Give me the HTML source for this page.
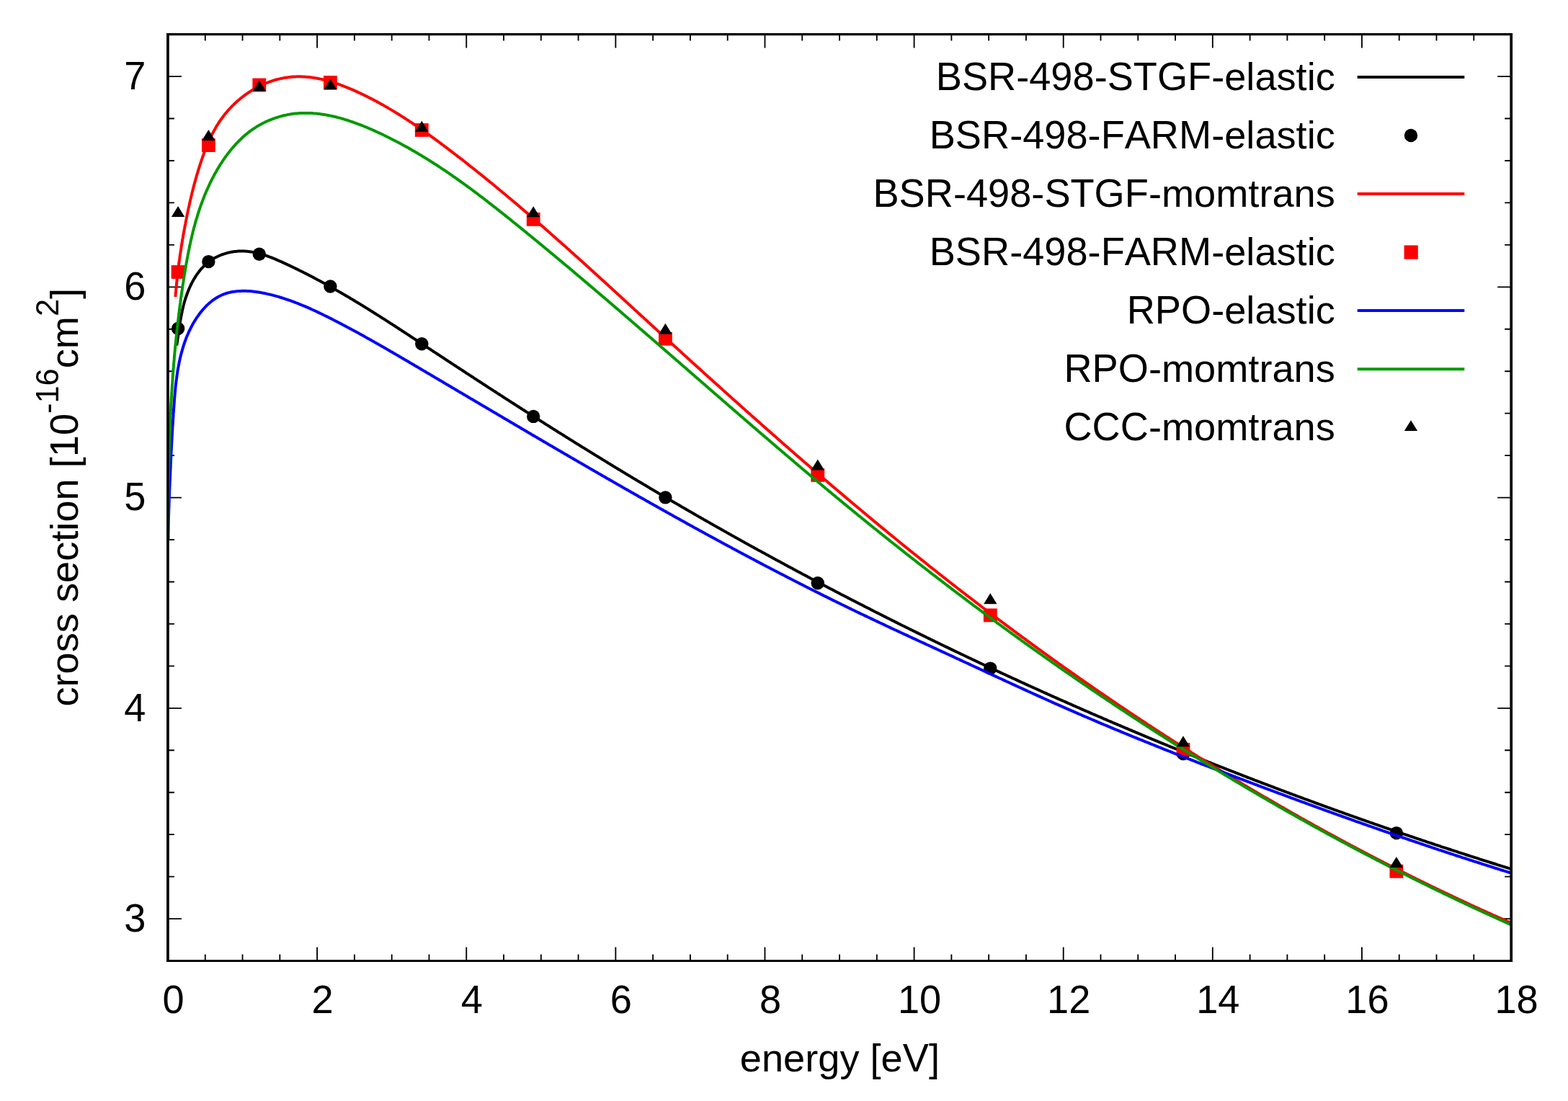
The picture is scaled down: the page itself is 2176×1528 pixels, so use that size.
<!DOCTYPE html><html><head><meta charset="utf-8"><title>cross section vs energy</title><style>html,body{margin:0;padding:0;background:#fff;overflow:hidden}svg{display:block}text{font-family:"Liberation Sans",Arial,Helvetica,sans-serif;fill:#000;font-kerning:none}</style></head><body>
<svg xmlns="http://www.w3.org/2000/svg" width="2176" height="1528" viewBox="0 0 2176 1528">
<rect width="2176" height="1528" fill="#fff"/>
<path d="M232.95 1275.05H251.95M2097.20 1275.05H2078.20M232.95 1216.60H241.95M2097.20 1216.60H2088.20M232.95 1158.15H241.95M2097.20 1158.15H2088.20M232.95 1099.70H241.95M2097.20 1099.70H2088.20M232.95 1041.25H241.95M2097.20 1041.25H2088.20M232.95 982.80H251.95M2097.20 982.80H2078.20M232.95 924.35H241.95M2097.20 924.35H2088.20M232.95 865.90H241.95M2097.20 865.90H2088.20M232.95 807.45H241.95M2097.20 807.45H2088.20M232.95 749.00H241.95M2097.20 749.00H2088.20M232.95 690.55H251.95M2097.20 690.55H2078.20M232.95 632.10H241.95M2097.20 632.10H2088.20M232.95 573.65H241.95M2097.20 573.65H2088.20M232.95 515.20H241.95M2097.20 515.20H2088.20M232.95 456.75H241.95M2097.20 456.75H2088.20M232.95 398.30H251.95M2097.20 398.30H2078.20M232.95 339.85H241.95M2097.20 339.85H2088.20M232.95 281.40H241.95M2097.20 281.40H2088.20M232.95 222.95H241.95M2097.20 222.95H2088.20M232.95 164.50H241.95M2097.20 164.50H2088.20M232.95 106.05H251.95M2097.20 106.05H2078.20M284.78 1333.50V1324.50M284.78 47.60V56.60M336.56 1333.50V1324.50M336.56 47.60V56.60M388.34 1333.50V1324.50M388.34 47.60V56.60M440.12 1333.50V1314.50M440.12 47.60V66.60M491.90 1333.50V1324.50M491.90 47.60V56.60M543.68 1333.50V1324.50M543.68 47.60V56.60M595.46 1333.50V1324.50M595.46 47.60V56.60M647.24 1333.50V1314.50M647.24 47.60V66.60M699.02 1333.50V1324.50M699.02 47.60V56.60M750.80 1333.50V1324.50M750.80 47.60V56.60M802.58 1333.50V1324.50M802.58 47.60V56.60M854.36 1333.50V1314.50M854.36 47.60V66.60M906.14 1333.50V1324.50M906.14 47.60V56.60M957.92 1333.50V1324.50M957.92 47.60V56.60M1009.70 1333.50V1324.50M1009.70 47.60V56.60M1061.48 1333.50V1314.50M1061.48 47.60V66.60M1113.26 1333.50V1324.50M1113.26 47.60V56.60M1165.04 1333.50V1324.50M1165.04 47.60V56.60M1216.82 1333.50V1324.50M1216.82 47.60V56.60M1268.60 1333.50V1314.50M1268.60 47.60V66.60M1320.38 1333.50V1324.50M1320.38 47.60V56.60M1372.16 1333.50V1324.50M1372.16 47.60V56.60M1423.94 1333.50V1324.50M1423.94 47.60V56.60M1475.72 1333.50V1314.50M1475.72 47.60V66.60M1527.50 1333.50V1324.50M1527.50 47.60V56.60M1579.28 1333.50V1324.50M1579.28 47.60V56.60M1631.06 1333.50V1324.50M1631.06 47.60V56.60M1682.84 1333.50V1314.50M1682.84 47.60V66.60M1734.62 1333.50V1324.50M1734.62 47.60V56.60M1786.40 1333.50V1324.50M1786.40 47.60V56.60M1838.18 1333.50V1324.50M1838.18 47.60V56.60M1889.96 1333.50V1314.50M1889.96 47.60V66.60M1941.74 1333.50V1324.50M1941.74 47.60V56.60M1993.52 1333.50V1324.50M1993.52 47.60V56.60M2045.30 1333.50V1324.50M2045.30 47.60V56.60" stroke="#000" stroke-width="1.85" fill="none"/>
<text y="1292.75"><tspan x="172.26" font-size="56.37" textLength="30.14" lengthAdjust="spacingAndGlyphs">3</tspan></text>
<text y="1000.50"><tspan x="172.26" font-size="56.37" textLength="30.14" lengthAdjust="spacingAndGlyphs">4</tspan></text>
<text y="708.25"><tspan x="172.26" font-size="56.37" textLength="30.14" lengthAdjust="spacingAndGlyphs">5</tspan></text>
<text y="416.00"><tspan x="172.26" font-size="56.37" textLength="30.14" lengthAdjust="spacingAndGlyphs">6</tspan></text>
<text y="123.75"><tspan x="172.26" font-size="56.37" textLength="30.14" lengthAdjust="spacingAndGlyphs">7</tspan></text>
<text y="1405.70"><tspan x="225.43" font-size="56.37" textLength="30.14" lengthAdjust="spacingAndGlyphs">0</tspan></text>
<text y="1405.70"><tspan x="432.55" font-size="56.37" textLength="30.14" lengthAdjust="spacingAndGlyphs">2</tspan></text>
<text y="1405.70"><tspan x="639.67" font-size="56.37" textLength="30.14" lengthAdjust="spacingAndGlyphs">4</tspan></text>
<text y="1405.70"><tspan x="846.79" font-size="56.37" textLength="30.14" lengthAdjust="spacingAndGlyphs">6</tspan></text>
<text y="1405.70"><tspan x="1053.91" font-size="56.37" textLength="30.14" lengthAdjust="spacingAndGlyphs">8</tspan></text>
<text y="1405.70"><tspan x="1245.96" font-size="56.37" textLength="60.28" lengthAdjust="spacingAndGlyphs">10</tspan></text>
<text y="1405.70"><tspan x="1453.08" font-size="56.37" textLength="60.28" lengthAdjust="spacingAndGlyphs">12</tspan></text>
<text y="1405.70"><tspan x="1660.20" font-size="56.37" textLength="60.28" lengthAdjust="spacingAndGlyphs">14</tspan></text>
<text y="1405.70"><tspan x="1867.32" font-size="56.37" textLength="60.28" lengthAdjust="spacingAndGlyphs">16</tspan></text>
<text y="1405.70"><tspan x="2074.44" font-size="56.37" textLength="60.28" lengthAdjust="spacingAndGlyphs">18</tspan></text>
<text y="1486.90"><tspan x="1026.83" font-size="54.20">energy [e</tspan><tspan x="1252.77" font-size="56.37" textLength="36.14" lengthAdjust="spacingAndGlyphs">V</tspan><tspan x="1288.91" font-size="54.20">]</tspan></text>
<g transform="translate(107.6 690.2) rotate(-90)"><text y="0.00"><tspan x="-290.34" font-size="54.20">cross section [</tspan><tspan x="55.98" font-size="56.37" textLength="60.27" lengthAdjust="spacingAndGlyphs">10</tspan></text><text y="-26.40"><tspan x="116.25" font-size="43.36">-</tspan><tspan x="130.70" font-size="45.09" textLength="48.22" lengthAdjust="spacingAndGlyphs">16</tspan></text><text y="0.00"><tspan x="178.92" font-size="54.20">cm</tspan></text><text y="-26.40"><tspan x="251.16" font-size="45.09" textLength="24.12" lengthAdjust="spacingAndGlyphs">2</tspan></text><text y="0.00"><tspan x="275.28" font-size="54.20">]</tspan></text></g>
<path d="M245.2 479.5 245.4 478.0 245.7 476.4 245.9 474.8 246.1 473.2 246.4 471.6 246.6 470.0 246.9 468.4 247.1 466.8 247.3 465.2 247.5 463.5 247.8 461.9 248.0 460.2 248.3 458.5 248.5 456.9 248.7 455.2 249.0 453.5 249.2 451.8 249.5 450.1 249.8 448.4 250.0 446.7 250.3 445.0 250.6 443.3 250.9 441.6 251.2 439.9 251.5 438.2 251.9 436.5 252.2 434.8 252.6 433.0 252.9 431.3 253.3 429.6 253.7 427.9 254.1 426.2 254.5 424.4 255.0 422.7 255.4 421.0 255.9 419.3 256.4 417.6 256.9 415.9 257.4 414.2 258.0 412.5 258.6 410.8 259.2 409.2 259.8 407.5 260.4 405.8 261.0 404.2 261.7 402.5 262.4 400.9 263.1 399.3 263.8 397.7 264.6 396.1 265.3 394.5 266.1 392.9 266.9 391.4 267.7 389.9 268.6 388.3 269.5 386.8 270.4 385.4 271.3 383.9 272.2 382.5 273.2 381.0 274.2 379.7 275.2 378.3 276.2 376.9 277.3 375.6 278.3 374.3 279.4 373.0 280.6 371.8 281.7 370.6 282.9 369.4 284.1 368.2 285.3 367.1 286.6 366.0 287.8 364.9 289.1 363.9 290.5 362.8 291.8 361.9 293.2 360.9 294.6 360.0 296.0 359.2 297.4 358.3 298.9 357.5 300.4 356.7 301.9 356.0 303.4 355.3 304.9 354.6 306.5 354.0 308.0 353.4 309.6 352.8 311.2 352.3 312.8 351.8 314.4 351.3 316.1 350.9 317.7 350.5 319.3 350.1 321.0 349.8 322.7 349.5 324.3 349.3 326.0 349.1 327.7 348.9 329.3 348.7 331.0 348.6 332.7 348.5 334.4 348.5 336.1 348.5 337.7 348.5 339.4 348.6 341.1 348.7 342.8 348.8 344.4 349.0 346.1 349.2 347.8 349.4 349.4 349.6 351.1 349.9 352.7 350.2 354.4 350.6 356.0 350.9 357.7 351.3 359.3 351.8 361.0 352.2 362.6 352.7 364.3 353.1 365.9 353.7 367.5 354.2 369.2 354.7 370.8 355.3 372.4 355.9 374.0 356.5 375.7 357.1 377.3 357.7 378.9 358.4 380.5 359.0 382.1 359.7 383.7 360.4 385.3 361.1 386.9 361.8 388.5 362.5 390.1 363.2 391.7 363.9 393.3 364.6 394.9 365.4 396.5 366.1 398.1 366.8 399.7 367.6 401.3 368.3 402.8 369.1 404.4 369.8 406.0 370.6 407.6 371.3 409.1 372.1 410.7 372.9 412.3 373.6 413.8 374.4 415.4 375.2 416.9 375.9 418.5 376.7 420.1 377.5 421.6 378.3 423.2 379.1 424.7 379.8 426.2 380.6 427.8 381.4 429.3 382.2 430.9 383.0 432.4 383.8 433.9 384.6 435.5 385.4 437.0 386.2 438.5 387.0 440.1 387.9 441.6 388.7 443.1 389.5 444.6 390.3 446.2 391.1 447.7 392.0 449.2 392.8 450.7 393.6 452.2 394.4 453.7 395.3 455.2 396.1 456.7 397.0 458.2 397.8 459.7 398.6 461.2 399.5 462.7 400.3 464.2 401.2 465.7 402.0 467.2 402.9 468.7 403.7 470.2 404.6 471.7 405.5 473.2 406.3 474.7 407.2 476.2 408.1 477.7 408.9 479.1 409.8 480.6 410.7 482.1 411.5 483.6 412.4 485.1 413.3 486.5 414.2 488.0 415.0 489.5 415.9 491.0 416.8 492.4 417.7 493.9 418.6 495.4 419.5 496.8 420.3 498.3 421.2 499.8 422.1 501.2 423.0 502.7 423.9 504.1 424.8 505.6 425.7 507.1 426.6 508.5 427.5 510.0 428.4 511.4 429.3 512.9 430.2 514.3 431.1 515.8 432.0 517.2 433.0 518.7 433.9 520.1 434.8 521.6 435.7 523.0 436.6 524.5 437.5 525.9 438.4 527.4 439.3 528.8 440.3 530.3 441.2 531.7 442.1 533.2 443.0 534.6 443.9 536.0 444.9 537.5 445.8 538.9 446.7 540.4 447.6 541.8 448.6 543.2 449.5 544.7 450.4 546.1 451.4 547.6 452.3 549.0 453.2 550.4 454.2 551.9 455.1 553.3 456.0 554.7 457.0 556.2 457.9 557.6 458.8 559.0 459.8 560.5 460.7 561.9 461.6 563.3 462.6 564.7 463.5 566.2 464.4 567.6 465.4 569.0 466.3 570.5 467.3 571.9 468.2 573.3 469.1 574.8 470.1 576.2 471.0 577.6 472.0 579.0 472.9 580.5 473.8 581.9 474.8 583.3 475.7 584.8 476.7 586.2 477.6 587.6 478.5 589.0 479.5 590.5 480.4 591.9 481.4 593.3 482.3 594.8 483.3 596.2 484.2 597.6 485.1 599.0 486.1 600.5 487.0 601.9 488.0 603.3 488.9 604.8 489.9 606.2 490.8 607.6 491.7 609.1 492.7 610.5 493.6 611.9 494.6 613.3 495.5 614.8 496.4 616.2 497.4 617.6 498.3 619.1 499.3 620.5 500.2 621.9 501.2 623.4 502.1 624.8 503.0 626.2 504.0 627.7 504.9 629.1 505.9 630.5 506.8 632.0 507.7 633.4 508.7 634.8 509.6 636.3 510.5 637.7 511.5 639.1 512.4 640.6 513.4 642.0 514.3 643.4 515.2 644.9 516.2 646.3 517.1 647.7 518.1 649.2 519.0 650.6 519.9 652.0 520.9 653.5 521.8 654.9 522.7 656.4 523.7 657.8 524.6 659.2 525.6 660.7 526.5 662.1 527.4 663.5 528.4 665.0 529.3 666.4 530.2 667.9 531.2 669.3 532.1 670.7 533.0 672.2 534.0 673.6 534.9 675.0 535.8 676.5 536.8 677.9 537.7 679.4 538.6 680.8 539.6 682.2 540.5 683.7 541.4 685.1 542.4 686.6 543.3 688.0 544.2 689.4 545.2 690.9 546.1 692.3 547.0 693.8 548.0 695.2 548.9 696.7 549.8 698.1 550.8 699.5 551.7 701.0 552.6 702.4 553.5 703.9 554.5 705.3 555.4 706.8 556.3 708.2 557.3 709.6 558.2 711.1 559.1 712.5 560.0 714.0 561.0 715.4 561.9 716.9 562.8 718.3 563.8 719.8 564.7 721.2 565.6 722.6 566.5 724.1 567.5 725.5 568.4 727.0 569.3 728.4 570.2 729.9 571.2 731.3 572.1 732.8 573.0 734.2 573.9 735.7 574.9 737.1 575.8 738.6 576.7 740.0 577.6 741.5 578.6 742.9 579.5 744.4 580.4 745.8 581.3 747.3 582.2 748.7 583.2 750.2 584.1 751.6 585.0 753.1 585.9 754.5 586.8 756.0 587.8 757.4 588.7 758.9 589.6 760.3 590.5 761.8 591.4 763.2 592.3 764.7 593.3 766.1 594.2 767.6 595.1 769.0 596.0 770.5 596.9 771.9 597.8 773.4 598.8 774.8 599.7 776.3 600.6 777.8 601.5 779.2 602.4 780.7 603.3 782.1 604.2 783.6 605.2 785.0 606.1 786.5 607.0 787.9 607.9 789.4 608.8 790.9 609.7 792.3 610.6 793.8 611.5 795.2 612.4 796.7 613.4 798.1 614.3 799.6 615.2 801.1 616.1 802.5 617.0 804.0 617.9 805.4 618.8 806.9 619.7 808.4 620.6 809.8 621.5 811.3 622.4 812.7 623.3 814.2 624.2 815.7 625.1 817.1 626.0 818.6 626.9 820.0 627.8 821.5 628.7 823.0 629.6 824.4 630.5 825.9 631.4 827.4 632.4 828.8 633.3 830.3 634.1 831.7 635.0 833.2 635.9 834.7 636.8 836.1 637.7 837.6 638.6 839.1 639.5 840.5 640.4 842.0 641.3 843.5 642.2 844.9 643.1 846.4 644.0 847.9 644.9 849.3 645.8 850.8 646.7 852.3 647.6 853.7 648.5 855.2 649.4 856.7 650.3 858.1 651.2 859.6 652.0 861.1 652.9 862.6 653.8 864.0 654.7 865.5 655.6 867.0 656.5 868.4 657.4 869.9 658.3 871.4 659.2 872.9 660.0 874.3 660.9 875.8 661.8 877.3 662.7 878.7 663.6 880.2 664.5 881.7 665.3 883.2 666.2 884.6 667.1 886.1 668.0 887.6 668.9 889.1 669.8 890.5 670.6 892.0 671.5 893.5 672.4 895.0 673.3 896.4 674.1 897.9 675.0 899.4 675.9 900.9 676.8 902.3 677.7 903.8 678.5 905.3 679.4 906.8 680.3 908.3 681.2 909.7 682.0 911.2 682.9 912.7 683.8 914.2 684.7 915.7 685.5 917.1 686.4 918.6 687.3 920.1 688.1 921.6 689.0 923.1 689.9 924.5 690.7 926.0 691.6 927.5 692.5 929.0 693.4 930.5 694.2 932.0 695.1 933.4 696.0 934.9 696.8 936.4 697.7 937.9 698.5 939.4 699.4 940.9 700.3 942.3 701.1 943.8 702.0 945.3 702.9 946.8 703.7 948.3 704.6 949.8 705.4 951.3 706.3 952.7 707.2 954.2 708.0 955.7 708.9 957.2 709.7 958.7 710.6 960.2 711.5 961.7 712.3 963.2 713.2 964.6 714.0 966.1 714.9 967.6 715.7 969.1 716.6 970.6 717.5 972.1 718.3 973.6 719.2 975.1 720.0 976.6 720.9 978.1 721.7 979.5 722.6 981.0 723.4 982.5 724.3 984.0 725.1 985.5 726.0 987.0 726.8 988.5 727.7 990.0 728.5 991.5 729.4 993.0 730.2 994.5 731.1 996.0 731.9 997.5 732.7 999.0 733.6 1000.5 734.4 1001.9 735.3 1003.4 736.1 1004.9 737.0 1006.4 737.8 1007.9 738.6 1009.4 739.5 1010.9 740.3 1012.4 741.2 1013.9 742.0 1015.4 742.9 1016.9 743.7 1018.4 744.5 1019.9 745.4 1021.4 746.2 1022.9 747.0 1024.4 747.9 1025.9 748.7 1027.4 749.6 1028.9 750.4 1030.4 751.2 1031.9 752.1 1033.4 752.9 1034.9 753.7 1036.4 754.6 1037.9 755.4 1039.4 756.2 1040.9 757.1 1042.4 757.9 1043.9 758.7 1045.4 759.5 1046.9 760.4 1048.4 761.2 1049.9 762.0 1051.4 762.9 1052.9 763.7 1054.5 764.5 1056.0 765.3 1057.5 766.2 1059.0 767.0 1060.5 767.8 1062.0 768.6 1063.5 769.5 1065.0 770.3 1066.5 771.1 1068.0 771.9 1069.5 772.8 1071.0 773.6 1072.5 774.4 1074.0 775.2 1075.5 776.0 1077.1 776.9 1078.6 777.7 1080.1 778.5 1081.6 779.3 1083.1 780.1 1084.6 781.0 1086.1 781.8 1087.6 782.6 1089.1 783.4 1090.6 784.2 1092.1 785.0 1093.7 785.9 1095.2 786.7 1096.7 787.5 1098.2 788.3 1099.7 789.1 1101.2 789.9 1102.7 790.7 1104.2 791.5 1105.8 792.4 1107.3 793.2 1108.8 794.0 1110.3 794.8 1111.8 795.6 1113.3 796.4 1114.8 797.2 1116.4 798.0 1117.9 798.8 1119.4 799.6 1120.9 800.4 1122.4 801.2 1123.9 802.0 1125.5 802.9 1127.0 803.7 1128.5 804.5 1130.0 805.3 1131.5 806.1 1133.0 806.9 1134.6 807.7 1136.1 808.5 1137.6 809.3 1139.1 810.1 1140.6 810.9 1142.2 811.7 1143.7 812.5 1145.2 813.3 1146.7 814.1 1148.2 814.9 1149.8 815.7 1151.3 816.5 1152.8 817.3 1154.3 818.0 1155.8 818.8 1157.4 819.6 1158.9 820.4 1160.4 821.2 1161.9 822.0 1163.4 822.8 1165.0 823.6 1166.5 824.4 1168.0 825.2 1169.5 826.0 1171.1 826.8 1172.6 827.6 1174.1 828.3 1175.6 829.1 1177.2 829.9 1178.7 830.7 1180.2 831.5 1181.7 832.3 1183.3 833.1 1184.8 833.9 1186.3 834.6 1187.8 835.4 1189.4 836.2 1190.9 837.0 1192.4 837.8 1194.0 838.6 1195.5 839.3 1197.0 840.1 1198.5 840.9 1200.1 841.7 1201.6 842.5 1203.1 843.2 1204.7 844.0 1206.2 844.8 1207.7 845.6 1209.2 846.4 1210.8 847.1 1212.3 847.9 1213.8 848.7 1215.4 849.5 1216.9 850.2 1218.4 851.0 1220.0 851.8 1221.5 852.6 1223.0 853.3 1224.6 854.1 1226.1 854.9 1227.6 855.7 1229.2 856.4 1230.7 857.2 1232.2 858.0 1233.8 858.7 1235.3 859.5 1236.8 860.3 1238.4 861.1 1239.9 861.8 1241.4 862.6 1243.0 863.4 1244.5 864.1 1246.0 864.9 1247.6 865.7 1249.1 866.4 1250.6 867.2 1252.2 868.0 1253.7 868.7 1255.3 869.5 1256.8 870.2 1258.3 871.0 1259.9 871.8 1261.4 872.5 1262.9 873.3 1264.5 874.1 1266.0 874.8 1267.6 875.6 1269.1 876.3 1270.6 877.1 1272.2 877.9 1273.7 878.6 1275.3 879.4 1276.8 880.1 1278.3 880.9 1279.9 881.6 1281.4 882.4 1283.0 883.1 1284.5 883.9 1286.1 884.7 1287.6 885.4 1289.1 886.2 1290.7 886.9 1292.2 887.7 1293.8 888.4 1295.3 889.2 1296.9 889.9 1298.4 890.7 1299.9 891.4 1301.5 892.2 1303.0 892.9 1304.6 893.7 1306.1 894.4 1307.7 895.2 1309.2 895.9 1310.8 896.7 1312.3 897.4 1313.8 898.1 1315.4 898.9 1316.9 899.6 1318.5 900.4 1320.0 901.1 1321.6 901.9 1323.1 902.6 1324.7 903.4 1326.2 904.1 1327.8 904.8 1329.3 905.6 1330.9 906.3 1332.4 907.1 1334.0 907.8 1335.5 908.5 1337.1 909.3 1338.6 910.0 1340.2 910.7 1341.7 911.5 1343.3 912.2 1344.8 913.0 1346.4 913.7 1347.9 914.4 1349.5 915.2 1351.0 915.9 1352.6 916.6 1354.1 917.4 1355.7 918.1 1357.2 918.8 1358.8 919.6 1360.3 920.3 1361.9 921.0 1363.4 921.7 1365.0 922.5 1366.6 923.2 1368.1 923.9 1369.7 924.7 1371.2 925.4 1372.8 926.1 1374.3 926.8 1375.9 927.6 1377.4 928.3 1379.0 929.0 1380.5 929.7 1382.1 930.5 1383.7 931.2 1385.2 931.9 1386.8 932.6 1388.3 933.4 1389.9 934.1 1391.4 934.8 1393.0 935.5 1394.6 936.2 1396.1 937.0 1397.7 937.7 1399.2 938.4 1400.8 939.1 1402.4 939.8 1403.9 940.6 1405.5 941.3 1407.0 942.0 1408.6 942.7 1410.2 943.4 1411.7 944.1 1413.3 944.9 1414.8 945.6 1416.4 946.3 1418.0 947.0 1419.5 947.7 1421.1 948.4 1422.6 949.1 1424.2 949.8 1425.8 950.6 1427.3 951.3 1428.9 952.0 1430.5 952.7 1432.0 953.4 1433.6 954.1 1435.1 954.8 1436.7 955.5 1438.3 956.2 1439.8 956.9 1441.4 957.6 1443.0 958.3 1444.5 959.0 1446.1 959.8 1447.7 960.5 1449.2 961.2 1450.8 961.9 1452.4 962.6 1453.9 963.3 1455.5 964.0 1457.1 964.7 1458.6 965.4 1460.2 966.1 1461.8 966.8 1463.3 967.5 1464.9 968.2 1466.5 968.9 1468.0 969.6 1469.6 970.3 1471.2 971.0 1472.7 971.7 1474.3 972.4 1475.9 973.0 1477.4 973.7 1479.0 974.4 1480.6 975.1 1482.2 975.8 1483.7 976.5 1485.3 977.2 1486.9 977.9 1488.4 978.6 1490.0 979.3 1491.6 980.0 1493.2 980.7 1494.7 981.4 1496.3 982.0 1497.9 982.7 1499.4 983.4 1501.0 984.1 1502.6 984.8 1504.2 985.5 1505.7 986.2 1507.3 986.9 1508.9 987.5 1510.5 988.2 1512.0 988.9 1513.6 989.6 1515.2 990.3 1516.8 991.0 1518.3 991.6 1519.9 992.3 1521.5 993.0 1523.1 993.7 1524.6 994.4 1526.2 995.0 1527.8 995.7 1529.4 996.4 1530.9 997.1 1532.5 997.8 1534.1 998.4 1535.7 999.1 1537.2 999.8 1538.8 1000.5 1540.4 1001.1 1542.0 1001.8 1543.6 1002.5 1545.1 1003.2 1546.7 1003.8 1548.3 1004.5 1549.9 1005.2 1551.5 1005.9 1553.0 1006.5 1554.6 1007.2 1556.2 1007.9 1557.8 1008.5 1559.4 1009.2 1560.9 1009.9 1562.5 1010.6 1564.1 1011.2 1565.7 1011.9 1567.3 1012.6 1568.8 1013.2 1570.4 1013.9 1572.0 1014.6 1573.6 1015.2 1575.2 1015.9 1576.8 1016.6 1578.3 1017.2 1579.9 1017.9 1581.5 1018.5 1583.1 1019.2 1584.7 1019.9 1586.3 1020.5 1587.8 1021.2 1589.4 1021.9 1591.0 1022.5 1592.6 1023.2 1594.2 1023.8 1595.8 1024.5 1597.3 1025.2 1598.9 1025.8 1600.5 1026.5 1602.1 1027.1 1603.7 1027.8 1605.3 1028.4 1606.9 1029.1 1608.4 1029.8 1610.0 1030.4 1611.6 1031.1 1613.2 1031.7 1614.8 1032.4 1616.4 1033.0 1618.0 1033.7 1619.6 1034.3 1621.1 1035.0 1622.7 1035.6 1624.3 1036.3 1625.9 1036.9 1627.5 1037.6 1629.1 1038.2 1630.7 1038.9 1632.3 1039.5 1633.9 1040.2 1635.5 1040.8 1637.0 1041.5 1638.6 1042.1 1640.2 1042.8 1641.8 1043.4 1643.4 1044.0 1645.0 1044.7 1646.6 1045.3 1648.2 1046.0 1649.8 1046.6 1651.4 1047.3 1653.0 1047.9 1654.5 1048.5 1656.1 1049.2 1657.7 1049.8 1659.3 1050.5 1660.9 1051.1 1662.5 1051.7 1664.1 1052.4 1665.7 1053.0 1667.3 1053.7 1668.9 1054.3 1670.5 1054.9 1672.1 1055.6 1673.7 1056.2 1675.3 1056.8 1676.9 1057.5 1678.5 1058.1 1680.1 1058.7 1681.6 1059.4 1683.2 1060.0 1684.8 1060.6 1686.4 1061.3 1688.0 1061.9 1689.6 1062.5 1691.2 1063.2 1692.8 1063.8 1694.4 1064.4 1696.0 1065.0 1697.6 1065.7 1699.2 1066.3 1700.8 1066.9 1702.4 1067.6 1704.0 1068.2 1705.6 1068.8 1707.2 1069.4 1708.8 1070.1 1710.4 1070.7 1712.0 1071.3 1713.6 1071.9 1715.2 1072.6 1716.8 1073.2 1718.4 1073.8 1720.0 1074.4 1721.6 1075.0 1723.2 1075.7 1724.8 1076.3 1726.4 1076.9 1728.0 1077.5 1729.6 1078.1 1731.2 1078.8 1732.8 1079.4 1734.4 1080.0 1736.0 1080.6 1737.6 1081.2 1739.2 1081.8 1740.8 1082.5 1742.4 1083.1 1744.0 1083.7 1745.6 1084.3 1747.2 1084.9 1748.8 1085.5 1750.4 1086.1 1752.1 1086.8 1753.7 1087.4 1755.3 1088.0 1756.9 1088.6 1758.5 1089.2 1760.1 1089.8 1761.7 1090.4 1763.3 1091.0 1764.9 1091.6 1766.5 1092.2 1768.1 1092.8 1769.7 1093.5 1771.3 1094.1 1772.9 1094.7 1774.5 1095.3 1776.1 1095.9 1777.7 1096.5 1779.3 1097.1 1781.0 1097.7 1782.6 1098.3 1784.2 1098.9 1785.8 1099.5 1787.4 1100.1 1789.0 1100.7 1790.6 1101.3 1792.2 1101.9 1793.8 1102.5 1795.4 1103.1 1797.0 1103.7 1798.7 1104.3 1800.3 1104.9 1801.9 1105.5 1803.5 1106.1 1805.1 1106.7 1806.7 1107.3 1808.3 1107.9 1809.9 1108.5 1811.5 1109.1 1813.1 1109.7 1814.8 1110.2 1816.4 1110.8 1818.0 1111.4 1819.6 1112.0 1821.2 1112.6 1822.8 1113.2 1824.4 1113.8 1826.0 1114.4 1827.7 1115.0 1829.3 1115.6 1830.9 1116.2 1832.5 1116.7 1834.1 1117.3 1835.7 1117.9 1837.3 1118.5 1838.9 1119.1 1840.6 1119.7 1842.2 1120.3 1843.8 1120.8 1845.4 1121.4 1847.0 1122.0 1848.6 1122.6 1850.2 1123.2 1851.9 1123.8 1853.5 1124.3 1855.1 1124.9 1856.7 1125.5 1858.3 1126.1 1859.9 1126.7 1861.6 1127.2 1863.2 1127.8 1864.8 1128.4 1866.4 1129.0 1868.0 1129.6 1869.6 1130.1 1871.3 1130.7 1872.9 1131.3 1874.5 1131.9 1876.1 1132.4 1877.7 1133.0 1879.3 1133.6 1881.0 1134.2 1882.6 1134.7 1884.2 1135.3 1885.8 1135.9 1887.4 1136.5 1889.1 1137.0 1890.7 1137.6 1892.3 1138.2 1893.9 1138.7 1895.5 1139.3 1897.2 1139.9 1898.8 1140.4 1900.4 1141.0 1902.0 1141.6 1903.6 1142.1 1905.3 1142.7 1906.9 1143.3 1908.5 1143.8 1910.1 1144.4 1911.7 1145.0 1913.4 1145.5 1915.0 1146.1 1916.6 1146.7 1918.2 1147.2 1919.9 1147.8 1921.5 1148.4 1923.1 1148.9 1924.7 1149.5 1926.4 1150.0 1928.0 1150.6 1929.6 1151.2 1931.2 1151.7 1932.8 1152.3 1934.5 1152.8 1936.1 1153.4 1937.7 1153.9 1939.3 1154.5 1941.0 1155.1 1942.6 1155.6 1944.2 1156.2 1945.8 1156.7 1947.5 1157.3 1949.1 1157.8 1950.7 1158.4 1952.3 1158.9 1954.0 1159.5 1955.6 1160.0 1957.2 1160.6 1958.9 1161.1 1960.5 1161.7 1962.1 1162.2 1963.7 1162.8 1965.4 1163.3 1967.0 1163.9 1968.6 1164.4 1970.2 1165.0 1971.9 1165.5 1973.5 1166.1 1975.1 1166.6 1976.8 1167.2 1978.4 1167.7 1980.0 1168.3 1981.6 1168.8 1983.3 1169.3 1984.9 1169.9 1986.5 1170.4 1988.2 1171.0 1989.8 1171.5 1991.4 1172.1 1993.0 1172.6 1994.7 1173.1 1996.3 1173.7 1997.9 1174.2 1999.6 1174.8 2001.2 1175.3 2002.8 1175.8 2004.5 1176.4 2006.1 1176.9 2007.7 1177.4 2009.4 1178.0 2011.0 1178.5 2012.6 1179.0 2014.3 1179.6 2015.9 1180.1 2017.5 1180.6 2019.1 1181.2 2020.8 1181.7 2022.4 1182.2 2024.0 1182.8 2025.7 1183.3 2027.3 1183.8 2028.9 1184.4 2030.6 1184.9 2032.2 1185.4 2033.8 1186.0 2035.5 1186.5 2037.1 1187.0 2038.8 1187.5 2040.4 1188.1 2042.0 1188.6 2043.7 1189.1 2045.3 1189.6 2046.9 1190.2 2048.6 1190.7 2050.2 1191.2 2051.8 1191.7 2053.5 1192.3 2055.1 1192.8 2056.7 1193.3 2058.4 1193.8 2060.0 1194.4 2061.7 1194.9 2063.3 1195.4 2064.9 1195.9 2066.6 1196.4 2068.2 1197.0 2069.8 1197.5 2071.5 1198.0 2073.1 1198.5 2074.7 1199.0 2076.4 1199.5 2078.0 1200.1 2079.7 1200.6 2081.3 1201.1 2082.9 1201.6 2084.6 1202.1 2086.2 1202.6 2087.9 1203.1 2089.5 1203.7 2091.1 1204.2 2092.8 1204.7 2094.4 1205.2 2096.1 1205.7 2096.9 1206.0" stroke="#000" stroke-width="4" fill="none" stroke-linejoin="round"/>
<g fill="#000"><circle cx="247.1" cy="455.9" r="9.2"/><circle cx="289.4" cy="363.1" r="9.2"/><circle cx="359.8" cy="352.7" r="9.2"/><circle cx="458.4" cy="397.5" r="9.2"/><circle cx="585.3" cy="477.2" r="9.2"/><circle cx="740.2" cy="577.9" r="9.2"/><circle cx="923.4" cy="690.4" r="9.2"/><circle cx="1134.8" cy="809.2" r="9.2"/><circle cx="1374.3" cy="927.6" r="9.2"/><circle cx="1642.0" cy="1046.0" r="9.2"/><circle cx="1937.9" cy="1156.1" r="9.2"/></g>
<path d="M243.4 412.1 243.6 410.1 243.7 408.1 243.9 406.1 244.1 404.2 244.2 402.2 244.4 400.2 244.6 398.3 244.8 396.3 245.0 394.3 245.2 392.4 245.4 390.4 245.6 388.4 245.8 386.5 246.0 384.5 246.2 382.6 246.4 380.6 246.7 378.7 246.9 376.7 247.1 374.8 247.4 372.8 247.6 370.9 247.9 368.9 248.1 367.0 248.4 365.1 248.6 363.1 248.9 361.2 249.2 359.2 249.4 357.3 249.7 355.4 250.0 353.4 250.3 351.5 250.6 349.6 250.9 347.6 251.2 345.7 251.5 343.8 251.8 341.8 252.1 339.9 252.4 338.0 252.7 336.1 253.0 334.1 253.3 332.2 253.7 330.3 254.0 328.4 254.3 326.4 254.7 324.5 255.0 322.6 255.4 320.7 255.7 318.8 256.1 316.8 256.4 314.9 256.8 313.0 257.2 311.1 257.5 309.2 257.9 307.2 258.3 305.3 258.7 303.4 259.0 301.5 259.4 299.6 259.8 297.7 260.2 295.8 260.6 293.8 261.0 291.9 261.4 290.0 261.8 288.1 262.3 286.2 262.7 284.3 263.1 282.4 263.5 280.5 264.0 278.6 264.4 276.6 264.9 274.7 265.3 272.8 265.8 270.9 266.2 269.0 266.7 267.1 267.2 265.2 267.7 263.3 268.1 261.4 268.6 259.5 269.1 257.6 269.6 255.7 270.1 253.8 270.7 251.9 271.2 250.0 271.7 248.1 272.3 246.2 272.8 244.3 273.3 242.4 273.9 240.5 274.5 238.6 275.0 236.7 275.6 234.8 276.2 232.9 276.8 231.0 277.4 229.1 278.0 227.3 278.7 225.4 279.3 223.5 279.9 221.6 280.6 219.7 281.2 217.8 281.9 216.0 282.6 214.1 283.2 212.2 283.9 210.3 284.7 208.5 285.4 206.6 286.1 204.8 286.9 202.9 287.6 201.1 288.4 199.2 289.2 197.4 290.0 195.6 290.8 193.8 291.6 192.0 292.5 190.2 293.4 188.4 294.2 186.6 295.1 184.9 296.1 183.1 297.0 181.4 298.0 179.7 298.9 177.9 299.9 176.2 300.9 174.5 302.0 172.9 303.0 171.2 304.1 169.5 305.2 167.9 306.3 166.3 307.5 164.7 308.6 163.1 309.8 161.5 311.0 160.0 312.2 158.4 313.5 156.9 314.7 155.4 316.0 153.9 317.3 152.4 318.6 151.0 320.0 149.5 321.3 148.1 322.7 146.7 324.1 145.4 325.5 144.0 326.9 142.7 328.4 141.3 329.8 140.0 331.3 138.7 332.8 137.5 334.3 136.2 335.8 135.0 337.4 133.8 338.9 132.7 340.5 131.5 342.1 130.4 343.7 129.3 345.3 128.2 346.9 127.1 348.5 126.1 350.2 125.0 351.8 124.1 353.5 123.1 355.2 122.1 356.9 121.2 358.6 120.3 360.3 119.5 362.0 118.6 363.8 117.8 365.5 117.0 367.3 116.2 369.1 115.5 370.8 114.8 372.6 114.1 374.4 113.4 376.2 112.8 378.0 112.2 379.9 111.6 381.7 111.0 383.5 110.5 385.4 110.0 387.2 109.6 389.1 109.1 390.9 108.7 392.8 108.4 394.7 108.0 396.5 107.7 398.4 107.4 400.3 107.2 402.2 106.9 404.1 106.7 406.0 106.6 407.9 106.5 409.8 106.4 411.7 106.3 413.6 106.3 415.5 106.3 417.4 106.3 419.3 106.4 421.3 106.4 423.2 106.6 425.1 106.7 427.0 106.9 429.0 107.1 430.9 107.3 432.8 107.6 434.7 107.8 436.7 108.2 438.6 108.5 440.5 108.8 442.4 109.2 444.4 109.6 446.3 110.0 448.2 110.5 450.1 111.0 452.1 111.5 454.0 112.0 455.9 112.5 457.8 113.0 459.7 113.6 461.7 114.2 463.6 114.8 465.5 115.4 467.4 116.1 469.3 116.7 471.2 117.4 473.1 118.1 475.0 118.8 476.9 119.5 478.8 120.3 480.7 121.0 482.5 121.8 484.4 122.5 486.3 123.3 488.2 124.1 490.0 124.9 491.9 125.7 493.7 126.6 495.6 127.4 497.4 128.3 499.3 129.1 501.1 130.0 502.9 130.8 504.7 131.7 506.5 132.6 508.3 133.5 510.1 134.4 511.9 135.3 513.7 136.2 515.5 137.1 517.3 138.0 519.1 139.0 520.8 139.9 522.6 140.8 524.3 141.8 526.1 142.7 527.8 143.7 529.6 144.7 531.3 145.6 533.0 146.6 534.7 147.6 536.4 148.6 538.2 149.6 539.9 150.6 541.6 151.6 543.3 152.6 545.0 153.6 546.6 154.6 548.3 155.6 550.0 156.7 551.7 157.7 553.3 158.7 555.0 159.8 556.7 160.8 558.3 161.9 560.0 162.9 561.6 164.0 563.3 165.1 564.9 166.1 566.6 167.2 568.2 168.3 569.8 169.4 571.4 170.4 573.1 171.5 574.7 172.6 576.3 173.7 577.9 174.8 579.5 175.9 581.1 177.0 582.7 178.2 584.3 179.3 585.9 180.4 587.5 181.5 589.1 182.6 590.7 183.8 592.3 184.9 593.9 186.0 595.5 187.2 597.1 188.3 598.6 189.5 600.2 190.6 601.8 191.7 603.4 192.9 604.9 194.1 606.5 195.2 608.1 196.4 609.6 197.5 611.2 198.7 612.8 199.9 614.3 201.0 615.9 202.2 617.4 203.4 619.0 204.5 620.5 205.7 622.1 206.9 623.6 208.1 625.2 209.2 626.7 210.4 628.3 211.6 629.8 212.8 631.4 214.0 632.9 215.2 634.5 216.4 636.0 217.6 637.6 218.7 639.1 219.9 640.7 221.1 642.2 222.3 643.7 223.5 645.3 224.7 646.8 225.9 648.3 227.1 649.9 228.4 651.4 229.6 652.9 230.8 654.5 232.0 656.0 233.2 657.5 234.4 659.1 235.6 660.6 236.8 662.1 238.1 663.6 239.3 665.2 240.5 666.7 241.7 668.2 242.9 669.7 244.2 671.2 245.4 672.8 246.6 674.3 247.9 675.8 249.1 677.3 250.3 678.8 251.6 680.3 252.8 681.8 254.0 683.4 255.3 684.9 256.5 686.4 257.7 687.9 259.0 689.4 260.2 690.9 261.5 692.4 262.7 693.9 264.0 695.4 265.2 696.9 266.5 698.4 267.7 699.9 269.0 701.4 270.2 702.9 271.5 704.4 272.7 705.9 274.0 707.4 275.3 708.9 276.5 710.4 277.8 711.9 279.0 713.4 280.3 714.9 281.6 716.4 282.8 717.9 284.1 719.4 285.4 720.9 286.6 722.4 287.9 723.9 289.2 725.4 290.4 726.9 291.7 728.3 293.0 729.8 294.3 731.3 295.5 732.8 296.8 734.3 298.1 735.8 299.4 737.3 300.7 738.7 301.9 740.2 303.2 741.7 304.5 743.2 305.8 744.7 307.1 746.1 308.4 747.6 309.6 749.1 310.9 750.6 312.2 752.1 313.5 753.5 314.8 755.0 316.1 756.5 317.4 758.0 318.7 759.4 320.0 760.9 321.3 762.4 322.6 763.9 323.9 765.3 325.2 766.8 326.5 768.3 327.8 769.7 329.1 771.2 330.4 772.7 331.7 774.1 333.0 775.6 334.3 777.1 335.6 778.6 336.9 780.0 338.2 781.5 339.5 783.0 340.8 784.4 342.1 785.9 343.4 787.3 344.7 788.8 346.0 790.3 347.3 791.7 348.6 793.2 350.0 794.7 351.3 796.1 352.6 797.6 353.9 799.0 355.2 800.5 356.5 802.0 357.8 803.4 359.1 804.9 360.5 806.4 361.8 807.8 363.1 809.3 364.4 810.7 365.7 812.2 367.0 813.6 368.4 815.1 369.7 816.6 371.0 818.0 372.3 819.5 373.6 820.9 375.0 822.4 376.3 823.8 377.6 825.3 378.9 826.7 380.3 828.2 381.6 829.7 382.9 831.1 384.2 832.6 385.5 834.0 386.9 835.5 388.2 836.9 389.5 838.4 390.8 839.8 392.2 841.3 393.5 842.7 394.8 844.2 396.2 845.6 397.5 847.1 398.8 848.5 400.1 850.0 401.5 851.4 402.8 852.9 404.1 854.3 405.4 855.8 406.8 857.2 408.1 858.7 409.4 860.1 410.8 861.6 412.1 863.0 413.4 864.5 414.7 865.9 416.1 867.4 417.4 868.8 418.7 870.3 420.1 871.7 421.4 873.2 422.7 874.6 424.1 876.1 425.4 877.5 426.7 879.0 428.0 880.4 429.4 881.9 430.7 883.3 432.0 884.8 433.4 886.2 434.7 887.7 436.0 889.1 437.4 890.6 438.7 892.0 440.0 893.5 441.4 894.9 442.7 896.4 444.0 897.8 445.3 899.3 446.7 900.7 448.0 902.2 449.3 903.6 450.7 905.1 452.0 906.5 453.3 908.0 454.7 909.4 456.0 910.9 457.3 912.3 458.6 913.8 460.0 915.2 461.3 916.7 462.6 918.1 464.0 919.6 465.3 921.0 466.6 922.5 467.9 923.9 469.3 925.4 470.6 926.8 471.9 928.3 473.2 929.7 474.6 931.2 475.9 932.6 477.2 934.1 478.5 935.5 479.9 937.0 481.2 938.4 482.5 939.9 483.8 941.3 485.2 942.8 486.5 944.2 487.8 945.7 489.1 947.1 490.5 948.6 491.8 950.0 493.1 951.5 494.4 953.0 495.8 954.4 497.1 955.9 498.4 957.3 499.7 958.8 501.0 960.2 502.4 961.7 503.7 963.1 505.0 964.6 506.3 966.0 507.7 967.5 509.0 968.9 510.3 970.4 511.6 971.9 512.9 973.3 514.3 974.8 515.6 976.2 516.9 977.7 518.2 979.1 519.5 980.6 520.8 982.1 522.2 983.5 523.5 985.0 524.8 986.4 526.1 987.9 527.4 989.3 528.7 990.8 530.1 992.3 531.4 993.7 532.7 995.2 534.0 996.6 535.3 998.1 536.6 999.5 537.9 1001.0 539.3 1002.5 540.6 1003.9 541.9 1005.4 543.2 1006.8 544.5 1008.3 545.8 1009.8 547.1 1011.2 548.5 1012.7 549.8 1014.2 551.1 1015.6 552.4 1017.1 553.7 1018.5 555.0 1020.0 556.3 1021.5 557.6 1022.9 558.9 1024.4 560.2 1025.9 561.5 1027.3 562.9 1028.8 564.2 1030.2 565.5 1031.7 566.8 1033.2 568.1 1034.6 569.4 1036.1 570.7 1037.6 572.0 1039.0 573.3 1040.5 574.6 1042.0 575.9 1043.4 577.2 1044.9 578.5 1046.4 579.8 1047.8 581.1 1049.3 582.4 1050.8 583.7 1052.2 585.0 1053.7 586.3 1055.2 587.6 1056.6 588.9 1058.1 590.2 1059.6 591.5 1061.1 592.8 1062.5 594.1 1064.0 595.4 1065.5 596.7 1066.9 598.0 1068.4 599.3 1069.9 600.6 1071.4 601.9 1072.8 603.2 1074.3 604.5 1075.8 605.8 1077.2 607.1 1078.7 608.4 1080.2 609.7 1081.7 611.0 1083.1 612.3 1084.6 613.6 1086.1 614.9 1087.6 616.2 1089.0 617.5 1090.5 618.8 1092.0 620.1 1093.5 621.3 1094.9 622.6 1096.4 623.9 1097.9 625.2 1099.4 626.5 1100.9 627.8 1102.3 629.1 1103.8 630.4 1105.3 631.7 1106.8 632.9 1108.3 634.2 1109.7 635.5 1111.2 636.8 1112.7 638.1 1114.2 639.4 1115.7 640.7 1117.1 641.9 1118.6 643.2 1120.1 644.5 1121.6 645.8 1123.1 647.1 1124.6 648.4 1126.0 649.6 1127.5 650.9 1129.0 652.2 1130.5 653.5 1132.0 654.8 1133.5 656.0 1135.0 657.3 1136.4 658.6 1137.9 659.9 1139.4 661.1 1140.9 662.4 1142.4 663.7 1143.9 665.0 1145.4 666.3 1146.9 667.5 1148.4 668.8 1149.8 670.1 1151.3 671.3 1152.8 672.6 1154.3 673.9 1155.8 675.2 1157.3 676.4 1158.8 677.7 1160.3 679.0 1161.8 680.2 1163.3 681.5 1164.8 682.8 1166.3 684.1 1167.8 685.3 1169.3 686.6 1170.8 687.9 1172.3 689.1 1173.8 690.4 1175.3 691.7 1176.8 692.9 1178.3 694.2 1179.8 695.4 1181.3 696.7 1182.8 698.0 1184.3 699.2 1185.8 700.5 1187.3 701.8 1188.8 703.0 1190.3 704.3 1191.8 705.5 1193.3 706.8 1194.8 708.1 1196.3 709.3 1197.8 710.6 1199.3 711.8 1200.8 713.1 1202.3 714.3 1203.8 715.6 1205.3 716.8 1206.8 718.1 1208.3 719.4 1209.8 720.6 1211.3 721.9 1212.8 723.1 1214.4 724.4 1215.9 725.6 1217.4 726.9 1218.9 728.1 1220.4 729.4 1221.9 730.6 1223.4 731.9 1224.9 733.1 1226.5 734.4 1228.0 735.6 1229.5 736.8 1231.0 738.1 1232.5 739.3 1234.0 740.6 1235.5 741.8 1237.1 743.1 1238.6 744.3 1240.1 745.5 1241.6 746.8 1243.1 748.0 1244.7 749.3 1246.2 750.5 1247.7 751.7 1249.2 753.0 1250.7 754.2 1252.3 755.5 1253.8 756.7 1255.3 757.9 1256.8 759.2 1258.4 760.4 1259.9 761.6 1261.4 762.9 1262.9 764.1 1264.5 765.3 1266.0 766.5 1267.5 767.8 1269.0 769.0 1270.6 770.2 1272.1 771.5 1273.6 772.7 1275.2 773.9 1276.7 775.1 1278.2 776.4 1279.8 777.6 1281.3 778.8 1282.8 780.0 1284.4 781.3 1285.9 782.5 1287.4 783.7 1289.0 784.9 1290.5 786.2 1292.0 787.4 1293.6 788.6 1295.1 789.8 1296.7 791.0 1298.2 792.2 1299.7 793.5 1301.3 794.7 1302.8 795.9 1304.4 797.1 1305.9 798.3 1307.4 799.5 1309.0 800.7 1310.5 802.0 1312.1 803.2 1313.6 804.4 1315.2 805.6 1316.7 806.8 1318.2 808.0 1319.8 809.2 1321.3 810.4 1322.9 811.6 1324.4 812.8 1326.0 814.0 1327.5 815.2 1329.1 816.5 1330.6 817.7 1332.2 818.9 1333.7 820.1 1335.3 821.3 1336.8 822.5 1338.4 823.7 1340.0 824.9 1341.5 826.1 1343.1 827.3 1344.6 828.5 1346.2 829.6 1347.7 830.8 1349.3 832.0 1350.8 833.2 1352.4 834.4 1354.0 835.6 1355.5 836.8 1357.1 838.0 1358.6 839.2 1360.2 840.4 1361.8 841.6 1363.3 842.8 1364.9 844.0 1366.4 845.1 1368.0 846.3 1369.6 847.5 1371.1 848.7 1372.7 849.9 1374.3 851.1 1375.8 852.2 1377.4 853.4 1379.0 854.6 1380.5 855.8 1382.1 857.0 1383.7 858.2 1385.2 859.3 1386.8 860.5 1388.4 861.7 1390.0 862.9 1391.5 864.0 1393.1 865.2 1394.7 866.4 1396.3 867.6 1397.8 868.7 1399.4 869.9 1401.0 871.1 1402.6 872.3 1404.1 873.4 1405.7 874.6 1407.3 875.8 1408.9 876.9 1410.4 878.1 1412.0 879.3 1413.6 880.4 1415.2 881.6 1416.8 882.8 1418.3 883.9 1419.9 885.1 1421.5 886.2 1423.1 887.4 1424.7 888.6 1426.3 889.7 1427.8 890.9 1429.4 892.0 1431.0 893.2 1432.6 894.4 1434.2 895.5 1435.8 896.7 1437.4 897.8 1438.9 899.0 1440.5 900.1 1442.1 901.3 1443.7 902.4 1445.3 903.6 1446.9 904.7 1448.5 905.9 1450.1 907.0 1451.7 908.2 1453.3 909.3 1454.9 910.5 1456.5 911.6 1458.0 912.8 1459.6 913.9 1461.2 915.1 1462.8 916.2 1464.4 917.3 1466.0 918.5 1467.6 919.6 1469.2 920.8 1470.8 921.9 1472.4 923.0 1474.0 924.2 1475.6 925.3 1477.2 926.5 1478.8 927.6 1480.4 928.7 1482.0 929.9 1483.6 931.0 1485.2 932.1 1486.8 933.3 1488.5 934.4 1490.1 935.5 1491.7 936.6 1493.3 937.8 1494.9 938.9 1496.5 940.0 1498.1 941.2 1499.7 942.3 1501.3 943.4 1502.9 944.5 1504.5 945.6 1506.1 946.8 1507.8 947.9 1509.4 949.0 1511.0 950.1 1512.6 951.2 1514.2 952.4 1515.8 953.5 1517.4 954.6 1519.1 955.7 1520.7 956.8 1522.3 957.9 1523.9 959.1 1525.5 960.2 1527.1 961.3 1528.8 962.4 1530.4 963.5 1532.0 964.6 1533.6 965.7 1535.2 966.8 1536.9 967.9 1538.5 969.0 1540.1 970.1 1541.7 971.2 1543.4 972.4 1545.0 973.5 1546.6 974.6 1548.2 975.7 1549.9 976.8 1551.5 977.9 1553.1 979.0 1554.7 980.1 1556.4 981.2 1558.0 982.2 1559.6 983.3 1561.3 984.4 1562.9 985.5 1564.5 986.6 1566.2 987.7 1567.8 988.8 1569.4 989.9 1571.0 991.0 1572.7 992.1 1574.3 993.2 1576.0 994.3 1577.6 995.3 1579.2 996.4 1580.9 997.5 1582.5 998.6 1584.1 999.7 1585.8 1000.8 1587.4 1001.8 1589.1 1002.9 1590.7 1004.0 1592.3 1005.1 1594.0 1006.2 1595.6 1007.2 1597.3 1008.3 1598.9 1009.4 1600.5 1010.5 1602.2 1011.5 1603.8 1012.6 1605.5 1013.7 1607.1 1014.7 1608.8 1015.8 1610.4 1016.9 1612.1 1018.0 1613.7 1019.0 1615.4 1020.1 1617.0 1021.2 1618.6 1022.2 1620.3 1023.3 1621.9 1024.3 1623.6 1025.4 1625.2 1026.5 1626.9 1027.5 1628.6 1028.6 1630.2 1029.7 1631.9 1030.7 1633.5 1031.8 1635.2 1032.8 1636.8 1033.9 1638.5 1034.9 1640.1 1036.0 1641.8 1037.0 1643.4 1038.1 1645.1 1039.1 1646.8 1040.2 1648.4 1041.2 1650.1 1042.3 1651.7 1043.3 1653.4 1044.4 1655.1 1045.4 1656.7 1046.5 1658.4 1047.5 1660.0 1048.6 1661.7 1049.6 1663.4 1050.7 1665.0 1051.7 1666.7 1052.7 1668.4 1053.8 1670.0 1054.8 1671.7 1055.8 1673.4 1056.9 1675.0 1057.9 1676.7 1059.0 1678.4 1060.0 1680.0 1061.0 1681.7 1062.1 1683.4 1063.1 1685.1 1064.1 1686.7 1065.1 1688.4 1066.2 1690.1 1067.2 1691.7 1068.2 1693.4 1069.3 1695.1 1070.3 1696.8 1071.3 1698.4 1072.3 1700.1 1073.3 1701.8 1074.4 1703.5 1075.4 1705.1 1076.4 1706.8 1077.4 1708.5 1078.4 1710.2 1079.5 1711.9 1080.5 1713.5 1081.5 1715.2 1082.5 1716.9 1083.5 1718.6 1084.5 1720.3 1085.5 1721.9 1086.5 1723.6 1087.6 1725.3 1088.6 1727.0 1089.6 1728.7 1090.6 1730.4 1091.6 1732.1 1092.6 1733.7 1093.6 1735.4 1094.6 1737.1 1095.6 1738.8 1096.6 1740.5 1097.6 1742.2 1098.6 1743.9 1099.6 1745.6 1100.6 1747.3 1101.6 1748.9 1102.6 1750.6 1103.6 1752.3 1104.6 1754.0 1105.6 1755.7 1106.6 1757.4 1107.5 1759.1 1108.5 1760.8 1109.5 1762.5 1110.5 1764.2 1111.5 1765.9 1112.5 1767.6 1113.5 1769.3 1114.5 1771.0 1115.4 1772.7 1116.4 1774.4 1117.4 1776.1 1118.4 1777.8 1119.4 1779.5 1120.3 1781.2 1121.3 1782.9 1122.3 1784.6 1123.3 1786.3 1124.2 1788.0 1125.2 1789.7 1126.2 1791.4 1127.2 1793.1 1128.1 1794.8 1129.1 1796.5 1130.1 1798.2 1131.0 1799.9 1132.0 1801.6 1133.0 1803.3 1133.9 1805.1 1134.9 1806.8 1135.9 1808.5 1136.8 1810.2 1137.8 1811.9 1138.7 1813.6 1139.7 1815.3 1140.7 1817.0 1141.6 1818.8 1142.6 1820.5 1143.5 1822.2 1144.5 1823.9 1145.4 1825.6 1146.4 1827.3 1147.3 1829.0 1148.3 1830.8 1149.2 1832.5 1150.2 1834.2 1151.1 1835.9 1152.1 1837.6 1153.0 1839.4 1154.0 1841.1 1154.9 1842.8 1155.9 1844.5 1156.8 1846.2 1157.7 1848.0 1158.7 1849.7 1159.6 1851.4 1160.5 1853.1 1161.5 1854.9 1162.4 1856.6 1163.4 1858.3 1164.3 1860.0 1165.2 1861.8 1166.1 1863.5 1167.1 1865.2 1168.0 1866.9 1168.9 1868.7 1169.9 1870.4 1170.8 1872.1 1171.7 1873.9 1172.6 1875.6 1173.6 1877.3 1174.5 1879.1 1175.4 1880.8 1176.3 1882.5 1177.2 1884.3 1178.2 1886.0 1179.1 1887.7 1180.0 1889.5 1180.9 1891.2 1181.8 1892.9 1182.7 1894.7 1183.7 1896.4 1184.6 1898.2 1185.5 1899.9 1186.4 1901.6 1187.3 1903.4 1188.2 1905.1 1189.1 1906.9 1190.0 1908.6 1190.9 1910.3 1191.8 1912.1 1192.7 1913.8 1193.6 1915.6 1194.5 1917.3 1195.4 1919.1 1196.3 1920.8 1197.2 1922.5 1198.1 1924.3 1199.0 1926.0 1199.9 1927.8 1200.8 1929.5 1201.7 1931.3 1202.6 1933.0 1203.5 1934.8 1204.3 1936.5 1205.2 1938.3 1206.1 1940.0 1207.0 1941.8 1207.9 1943.5 1208.8 1945.3 1209.7 1947.0 1210.5 1948.8 1211.4 1950.6 1212.3 1952.3 1213.2 1954.1 1214.0 1955.8 1214.9 1957.6 1215.8 1959.3 1216.7 1961.1 1217.5 1962.9 1218.4 1964.6 1219.3 1966.4 1220.2 1968.1 1221.0 1969.9 1221.9 1971.7 1222.8 1973.4 1223.6 1975.2 1224.5 1976.9 1225.4 1978.7 1226.2 1980.5 1227.1 1982.2 1227.9 1984.0 1228.8 1985.8 1229.7 1987.5 1230.5 1989.3 1231.4 1991.1 1232.2 1992.8 1233.1 1994.6 1233.9 1996.4 1234.8 1998.1 1235.6 1999.9 1236.5 2001.7 1237.3 2003.4 1238.2 2005.2 1239.0 2007.0 1239.9 2008.8 1240.7 2010.5 1241.5 2012.3 1242.4 2014.1 1243.2 2015.8 1244.1 2017.6 1244.9 2019.4 1245.7 2021.2 1246.6 2023.0 1247.4 2024.7 1248.2 2026.5 1249.1 2028.3 1249.9 2030.1 1250.7 2031.8 1251.6 2033.6 1252.4 2035.4 1253.2 2037.2 1254.1 2039.0 1254.9 2040.7 1255.7 2042.5 1256.5 2044.3 1257.3 2046.1 1258.2 2047.9 1259.0 2049.7 1259.8 2051.4 1260.6 2053.2 1261.4 2055.0 1262.3 2056.8 1263.1 2058.6 1263.9 2060.4 1264.7 2062.2 1265.5 2064.0 1266.3 2065.7 1267.1 2067.5 1267.9 2069.3 1268.7 2071.1 1269.5 2072.9 1270.3 2074.7 1271.1 2076.5 1271.9 2078.3 1272.7 2080.1 1273.5 2081.9 1274.3 2083.7 1275.1 2085.5 1275.9 2087.3 1276.7 2089.1 1277.5 2090.9 1278.3 2092.7 1279.1 2094.4 1279.9 2096.2 1280.7 2097.1 1281.1" stroke="#f00" stroke-width="4" fill="none" stroke-linejoin="round"/>
<g fill="#f00"><rect x="237.7" y="368.1" width="18.8" height="18.8"/><rect x="280.0" y="192.2" width="18.8" height="18.8"/><rect x="350.4" y="108.6" width="18.8" height="18.8"/><rect x="449.0" y="105.1" width="18.8" height="18.8"/><rect x="575.9" y="171.1" width="18.8" height="18.8"/><rect x="730.8" y="295.0" width="18.8" height="18.8"/><rect x="914.0" y="460.8" width="18.8" height="18.8"/><rect x="1125.4" y="650.0" width="18.8" height="18.8"/><rect x="1364.9" y="844.5" width="18.8" height="18.8"/><rect x="1632.6" y="1030.9" width="18.8" height="18.8"/><rect x="1928.5" y="1199.8" width="18.8" height="18.8"/></g>
<path d="M233.0 750.3 233.1 748.4 233.1 746.5 233.2 744.5 233.2 742.6 233.3 740.7 233.3 738.8 233.4 736.9 233.5 735.0 233.5 733.0 233.6 731.1 233.6 729.2 233.7 727.3 233.8 725.4 233.8 723.5 233.9 721.6 233.9 719.7 234.0 717.8 234.1 716.0 234.1 714.1 234.2 712.2 234.3 710.3 234.3 708.4 234.4 706.5 234.4 704.7 234.5 702.8 234.6 700.9 234.6 699.0 234.7 697.2 234.8 695.3 234.8 693.4 234.9 691.6 235.0 689.7 235.0 687.9 235.1 686.0 235.2 684.1 235.2 682.3 235.3 680.4 235.4 678.6 235.4 676.7 235.5 674.9 235.6 673.0 235.7 671.2 235.7 669.3 235.8 667.5 235.9 665.6 236.0 663.8 236.0 661.9 236.1 660.1 236.2 658.2 236.3 656.4 236.3 654.5 236.4 652.7 236.5 650.9 236.6 649.0 236.7 647.2 236.7 645.3 236.8 643.5 236.9 641.6 237.0 639.8 237.1 637.9 237.2 636.1 237.3 634.3 237.3 632.4 237.4 630.6 237.5 628.7 237.6 626.9 237.7 625.0 237.8 623.2 237.9 621.4 238.0 619.5 238.1 617.7 238.2 615.8 238.3 614.0 238.4 612.1 238.5 610.3 238.6 608.4 238.7 606.6 238.8 604.7 238.9 602.9 239.0 601.0 239.1 599.1 239.2 597.3 239.3 595.4 239.4 593.6 239.5 591.7 239.7 589.8 239.8 588.0 239.9 586.1 240.0 584.2 240.1 582.4 240.2 580.5 240.4 578.6 240.5 576.8 240.6 574.9 240.7 573.0 240.9 571.1 241.0 569.2 241.1 567.4 241.3 565.5 241.4 563.6 241.5 561.7 241.7 559.8 241.8 557.9 241.9 556.0 242.1 554.1 242.2 552.2 242.4 550.3 242.6 548.4 242.7 546.5 242.9 544.6 243.1 542.7 243.3 540.8 243.4 538.9 243.6 537.0 243.8 535.2 244.0 533.3 244.3 531.4 244.5 529.5 244.7 527.6 245.0 525.7 245.2 523.8 245.5 521.9 245.7 520.1 246.0 518.2 246.3 516.3 246.6 514.4 246.9 512.6 247.2 510.7 247.6 508.9 247.9 507.0 248.3 505.1 248.6 503.3 249.0 501.5 249.4 499.6 249.8 497.8 250.2 496.0 250.7 494.1 251.1 492.3 251.6 490.5 252.1 488.7 252.6 486.9 253.1 485.1 253.6 483.3 254.2 481.5 254.7 479.7 255.3 478.0 255.9 476.2 256.5 474.5 257.1 472.7 257.8 471.0 258.4 469.2 259.1 467.5 259.8 465.8 260.6 464.1 261.3 462.4 262.1 460.7 262.8 459.0 263.7 457.3 264.5 455.7 265.3 454.0 266.2 452.4 267.1 450.7 268.0 449.1 268.9 447.5 269.9 445.9 270.9 444.3 271.9 442.7 272.9 441.2 274.0 439.6 275.1 438.1 276.2 436.5 277.3 435.0 278.4 433.5 279.6 432.1 280.8 430.6 282.0 429.2 283.3 427.8 284.5 426.5 285.8 425.2 287.1 423.8 288.4 422.6 289.8 421.3 291.2 420.1 292.6 419.0 294.0 417.8 295.4 416.7 296.9 415.7 298.4 414.7 299.9 413.7 301.4 412.8 302.9 411.9 304.5 411.0 306.1 410.3 307.7 409.5 309.3 408.8 311.0 408.2 312.6 407.6 314.3 407.0 316.0 406.5 317.7 406.1 319.5 405.7 321.2 405.3 323.0 405.0 324.8 404.7 326.6 404.5 328.4 404.2 330.2 404.1 332.0 403.9 333.9 403.9 335.7 403.8 337.6 403.8 339.4 403.8 341.3 403.8 343.2 403.9 345.1 404.0 347.0 404.1 348.9 404.3 350.8 404.5 352.7 404.7 354.6 404.9 356.5 405.2 358.4 405.5 360.3 405.8 362.2 406.1 364.1 406.5 366.0 406.8 367.9 407.2 369.8 407.6 371.7 408.1 373.6 408.5 375.4 408.9 377.3 409.4 379.2 409.9 381.0 410.4 382.9 410.9 384.7 411.4 386.6 411.9 388.4 412.5 390.2 413.0 392.0 413.6 393.8 414.2 395.6 414.8 397.4 415.4 399.2 416.0 401.0 416.6 402.8 417.2 404.6 417.8 406.3 418.5 408.1 419.1 409.9 419.8 411.6 420.5 413.4 421.2 415.1 421.9 416.8 422.6 418.6 423.3 420.3 424.0 422.0 424.7 423.7 425.4 425.5 426.2 427.2 426.9 428.9 427.7 430.6 428.4 432.3 429.2 434.0 430.0 435.7 430.7 437.4 431.5 439.1 432.3 440.8 433.1 442.4 433.9 444.1 434.7 445.8 435.5 447.5 436.3 449.2 437.2 450.8 438.0 452.5 438.8 454.2 439.6 455.8 440.5 457.5 441.3 459.2 442.1 460.8 443.0 462.5 443.8 464.1 444.7 465.8 445.5 467.5 446.4 469.1 447.2 470.8 448.1 472.4 448.9 474.1 449.8 475.7 450.7 477.4 451.5 479.0 452.4 480.7 453.3 482.3 454.2 484.0 455.0 485.6 455.9 487.2 456.8 488.9 457.7 490.5 458.6 492.2 459.5 493.8 460.3 495.4 461.2 497.1 462.1 498.7 463.0 500.4 463.9 502.0 464.8 503.6 465.7 505.2 466.6 506.9 467.6 508.5 468.5 510.1 469.4 511.8 470.3 513.4 471.2 515.0 472.1 516.6 473.0 518.3 473.9 519.9 474.9 521.5 475.8 523.1 476.7 524.8 477.6 526.4 478.6 528.0 479.5 529.6 480.4 531.2 481.3 532.9 482.3 534.5 483.2 536.1 484.1 537.7 485.1 539.3 486.0 541.0 487.0 542.6 487.9 544.2 488.8 545.8 489.8 547.4 490.7 549.0 491.6 550.6 492.6 552.3 493.5 553.9 494.5 555.5 495.4 557.1 496.4 558.7 497.3 560.3 498.3 561.9 499.2 563.6 500.1 565.2 501.1 566.8 502.0 568.4 503.0 570.0 503.9 571.6 504.9 573.2 505.8 574.8 506.8 576.4 507.7 578.1 508.7 579.7 509.6 581.3 510.6 582.9 511.5 584.5 512.5 586.1 513.4 587.7 514.4 589.3 515.3 590.9 516.3 592.5 517.2 594.2 518.2 595.8 519.1 597.4 520.1 599.0 521.0 600.6 522.0 602.2 522.9 603.8 523.9 605.4 524.8 607.0 525.8 608.7 526.7 610.3 527.7 611.9 528.6 613.5 529.6 615.1 530.5 616.7 531.5 618.3 532.4 619.9 533.4 621.5 534.3 623.1 535.3 624.8 536.2 626.4 537.2 628.0 538.2 629.6 539.1 631.2 540.1 632.8 541.0 634.4 542.0 636.0 542.9 637.6 543.9 639.2 544.8 640.9 545.8 642.5 546.7 644.1 547.7 645.7 548.6 647.3 549.6 648.9 550.5 650.5 551.5 652.1 552.4 653.7 553.4 655.3 554.3 657.0 555.3 658.6 556.2 660.2 557.2 661.8 558.1 663.4 559.1 665.0 560.0 666.6 561.0 668.2 561.9 669.8 562.9 671.4 563.8 673.1 564.8 674.7 565.7 676.3 566.7 677.9 567.6 679.5 568.6 681.1 569.5 682.7 570.5 684.3 571.4 685.9 572.4 687.6 573.3 689.2 574.3 690.8 575.2 692.4 576.2 694.0 577.1 695.6 578.1 697.2 579.0 698.8 580.0 700.4 580.9 702.1 581.9 703.7 582.8 705.3 583.8 706.9 584.7 708.5 585.7 710.1 586.6 711.7 587.6 713.3 588.5 714.9 589.5 716.6 590.4 718.2 591.4 719.8 592.3 721.4 593.3 723.0 594.2 724.6 595.2 726.2 596.1 727.8 597.1 729.5 598.0 731.1 599.0 732.7 599.9 734.3 600.9 735.9 601.8 737.5 602.8 739.1 603.7 740.7 604.7 742.4 605.6 744.0 606.6 745.6 607.5 747.2 608.4 748.8 609.4 750.4 610.3 752.0 611.3 753.7 612.2 755.3 613.2 756.9 614.1 758.5 615.1 760.1 616.0 761.7 617.0 763.3 617.9 765.0 618.8 766.6 619.8 768.2 620.7 769.8 621.7 771.4 622.6 773.0 623.6 774.6 624.5 776.3 625.4 777.9 626.4 779.5 627.3 781.1 628.3 782.7 629.2 784.3 630.2 786.0 631.1 787.6 632.0 789.2 633.0 790.8 633.9 792.4 634.9 794.0 635.8 795.7 636.7 797.3 637.7 798.9 638.6 800.5 639.6 802.1 640.5 803.7 641.4 805.4 642.4 807.0 643.3 808.6 644.3 810.2 645.2 811.8 646.1 813.4 647.1 815.1 648.0 816.7 648.9 818.3 649.9 819.9 650.8 821.5 651.8 823.2 652.7 824.8 653.6 826.4 654.6 828.0 655.5 829.6 656.4 831.3 657.4 832.9 658.3 834.5 659.2 836.1 660.2 837.7 661.1 839.4 662.0 841.0 663.0 842.6 663.9 844.2 664.8 845.8 665.8 847.5 666.7 849.1 667.6 850.7 668.6 852.3 669.5 854.0 670.4 855.6 671.4 857.2 672.3 858.8 673.2 860.4 674.1 862.1 675.1 863.7 676.0 865.3 676.9 866.9 677.9 868.6 678.8 870.2 679.7 871.8 680.6 873.4 681.6 875.1 682.5 876.7 683.4 878.3 684.3 879.9 685.3 881.6 686.2 883.2 687.1 884.8 688.0 886.4 689.0 888.1 689.9 889.7 690.8 891.3 691.7 893.0 692.6 894.6 693.6 896.2 694.5 897.8 695.4 899.5 696.3 901.1 697.2 902.7 698.2 904.3 699.1 906.0 700.0 907.6 700.9 909.2 701.8 910.9 702.8 912.5 703.7 914.1 704.6 915.8 705.5 917.4 706.4 919.0 707.3 920.6 708.3 922.3 709.2 923.9 710.1 925.5 711.0 927.2 711.9 928.8 712.8 930.4 713.7 932.1 714.6 933.7 715.6 935.3 716.5 937.0 717.4 938.6 718.3 940.2 719.2 941.9 720.1 943.5 721.0 945.1 721.9 946.8 722.8 948.4 723.7 950.0 724.6 951.7 725.5 953.3 726.5 954.9 727.4 956.6 728.3 958.2 729.2 959.9 730.1 961.5 731.0 963.1 731.9 964.8 732.8 966.4 733.7 968.0 734.6 969.7 735.5 971.3 736.4 973.0 737.3 974.6 738.2 976.2 739.1 977.9 740.0 979.5 740.9 981.2 741.8 982.8 742.7 984.4 743.6 986.1 744.5 987.7 745.4 989.4 746.2 991.0 747.1 992.6 748.0 994.3 748.9 995.9 749.8 997.6 750.7 999.2 751.6 1000.9 752.5 1002.5 753.4 1004.1 754.3 1005.8 755.2 1007.4 756.1 1009.1 756.9 1010.7 757.8 1012.4 758.7 1014.0 759.6 1015.7 760.5 1017.3 761.4 1019.0 762.3 1020.6 763.1 1022.3 764.0 1023.9 764.9 1025.5 765.8 1027.2 766.7 1028.8 767.6 1030.5 768.4 1032.1 769.3 1033.8 770.2 1035.4 771.1 1037.1 771.9 1038.7 772.8 1040.4 773.7 1042.0 774.6 1043.7 775.5 1045.4 776.3 1047.0 777.2 1048.7 778.1 1050.3 778.9 1052.0 779.8 1053.6 780.7 1055.3 781.6 1056.9 782.4 1058.6 783.3 1060.2 784.2 1061.9 785.0 1063.5 785.9 1065.2 786.8 1066.9 787.6 1068.5 788.5 1070.2 789.4 1071.8 790.2 1073.5 791.1 1075.1 792.0 1076.8 792.8 1078.5 793.7 1080.1 794.5 1081.8 795.4 1083.4 796.3 1085.1 797.1 1086.8 798.0 1088.4 798.8 1090.1 799.7 1091.7 800.6 1093.4 801.4 1095.1 802.3 1096.7 803.1 1098.4 804.0 1100.1 804.8 1101.7 805.7 1103.4 806.5 1105.1 807.4 1106.7 808.2 1108.4 809.1 1110.0 809.9 1111.7 810.8 1113.4 811.6 1115.0 812.5 1116.7 813.3 1118.4 814.2 1120.0 815.0 1121.7 815.9 1123.4 816.7 1125.1 817.5 1126.7 818.4 1128.4 819.2 1130.1 820.1 1131.7 820.9 1133.4 821.7 1135.1 822.6 1136.8 823.4 1138.4 824.2 1140.1 825.1 1141.8 825.9 1143.4 826.8 1145.1 827.6 1146.8 828.4 1148.5 829.2 1150.1 830.1 1151.8 830.9 1153.5 831.7 1155.2 832.6 1156.8 833.4 1158.5 834.2 1160.2 835.0 1161.9 835.9 1163.6 836.7 1165.2 837.5 1166.9 838.3 1168.6 839.2 1170.3 840.0 1172.0 840.8 1173.6 841.6 1175.3 842.4 1177.0 843.3 1178.7 844.1 1180.4 844.9 1182.0 845.7 1183.7 846.5 1185.4 847.3 1187.1 848.2 1188.8 849.0 1190.5 849.8 1192.2 850.6 1193.8 851.4 1195.5 852.2 1197.2 853.0 1198.9 853.8 1200.6 854.6 1202.3 855.4 1204.0 856.2 1205.7 857.0 1207.4 857.8 1209.0 858.6 1210.7 859.4 1212.4 860.2 1214.1 861.0 1215.8 861.8 1217.5 862.6 1219.2 863.4 1220.9 864.2 1222.6 865.0 1224.3 865.8 1226.0 866.6 1227.7 867.4 1229.4 868.2 1231.0 869.0 1232.7 869.8 1234.4 870.6 1236.1 871.4 1237.8 872.2 1239.5 873.0 1241.2 873.8 1242.9 874.5 1244.6 875.3 1246.3 876.1 1248.0 876.9 1249.7 877.7 1251.4 878.5 1253.1 879.3 1254.8 880.1 1256.5 880.8 1258.2 881.6 1259.9 882.4 1261.6 883.2 1263.3 884.0 1265.0 884.8 1266.7 885.6 1268.4 886.3 1270.1 887.1 1271.8 887.9 1273.5 888.7 1275.2 889.5 1276.9 890.3 1278.6 891.0 1280.3 891.8 1282.0 892.6 1283.7 893.4 1285.4 894.2 1287.1 895.0 1288.8 895.7 1290.5 896.5 1292.2 897.3 1293.9 898.1 1295.6 898.9 1297.3 899.7 1299.0 900.4 1300.7 901.2 1302.4 902.0 1304.1 902.8 1305.8 903.6 1307.5 904.4 1309.2 905.1 1310.9 905.9 1312.6 906.7 1314.3 907.5 1316.0 908.3 1317.7 909.1 1319.4 909.8 1321.1 910.6 1322.8 911.4 1324.5 912.2 1326.1 913.0 1327.8 913.8 1329.5 914.5 1331.2 915.3 1332.9 916.1 1334.6 916.9 1336.3 917.7 1338.0 918.5 1339.7 919.3 1341.4 920.0 1343.1 920.8 1344.8 921.6 1346.5 922.4 1348.2 923.2 1349.9 924.0 1351.6 924.8 1353.3 925.6 1355.0 926.3 1356.7 927.1 1358.4 927.9 1360.1 928.7 1361.8 929.5 1363.5 930.3 1365.2 931.1 1366.9 931.8 1368.6 932.6 1370.3 933.4 1371.9 934.2 1373.6 935.0 1375.3 935.8 1377.0 936.6 1378.7 937.3 1380.4 938.1 1382.1 938.9 1383.8 939.7 1385.5 940.5 1387.2 941.3 1388.9 942.0 1390.6 942.8 1392.3 943.6 1394.0 944.4 1395.7 945.2 1397.4 946.0 1399.1 946.7 1400.8 947.5 1402.5 948.3 1404.2 949.1 1405.9 949.9 1407.6 950.6 1409.3 951.4 1411.0 952.2 1412.7 953.0 1414.4 953.8 1416.1 954.5 1417.8 955.3 1419.5 956.1 1421.2 956.9 1422.9 957.6 1424.6 958.4 1426.3 959.2 1428.0 960.0 1429.7 960.7 1431.4 961.5 1433.1 962.3 1434.8 963.1 1436.5 963.8 1438.2 964.6 1439.9 965.4 1441.6 966.1 1443.3 966.9 1445.0 967.7 1446.7 968.4 1448.4 969.2 1450.1 970.0 1451.8 970.7 1453.5 971.5 1455.2 972.3 1456.9 973.0 1458.6 973.8 1460.3 974.6 1462.0 975.3 1463.7 976.1 1465.4 976.8 1467.2 977.6 1468.9 978.4 1470.6 979.1 1472.3 979.9 1474.0 980.6 1475.7 981.4 1477.4 982.1 1479.1 982.9 1480.8 983.6 1482.5 984.4 1484.2 985.1 1486.0 985.9 1487.7 986.6 1489.4 987.4 1491.1 988.1 1492.8 988.9 1494.5 989.6 1496.2 990.4 1498.0 991.1 1499.7 991.8 1501.4 992.6 1503.1 993.3 1504.8 994.1 1506.5 994.8 1508.3 995.5 1510.0 996.3 1511.7 997.0 1513.4 997.7 1515.1 998.5 1516.8 999.2 1518.6 999.9 1520.3 1000.7 1522.0 1001.4 1523.7 1002.1 1525.5 1002.9 1527.2 1003.6 1528.9 1004.3 1530.6 1005.0 1532.3 1005.8 1534.1 1006.5 1535.8 1007.2 1537.5 1007.9 1539.2 1008.7 1541.0 1009.4 1542.7 1010.1 1544.4 1010.8 1546.1 1011.6 1547.9 1012.3 1549.6 1013.0 1551.3 1013.7 1553.0 1014.4 1554.8 1015.1 1556.5 1015.9 1558.2 1016.6 1560.0 1017.3 1561.7 1018.0 1563.4 1018.7 1565.1 1019.4 1566.9 1020.1 1568.6 1020.8 1570.3 1021.5 1572.1 1022.3 1573.8 1023.0 1575.5 1023.7 1577.3 1024.4 1579.0 1025.1 1580.7 1025.8 1582.5 1026.5 1584.2 1027.2 1585.9 1027.9 1587.7 1028.6 1589.4 1029.3 1591.1 1030.0 1592.9 1030.7 1594.6 1031.4 1596.3 1032.1 1598.1 1032.8 1599.8 1033.5 1601.5 1034.2 1603.3 1034.9 1605.0 1035.6 1606.7 1036.3 1608.5 1037.0 1610.2 1037.7 1612.0 1038.4 1613.7 1039.1 1615.4 1039.8 1617.2 1040.5 1618.9 1041.1 1620.6 1041.8 1622.4 1042.5 1624.1 1043.2 1625.9 1043.9 1627.6 1044.6 1629.3 1045.3 1631.1 1046.0 1632.8 1046.7 1634.6 1047.3 1636.3 1048.0 1638.0 1048.7 1639.8 1049.4 1641.5 1050.1 1643.3 1050.8 1645.0 1051.5 1646.7 1052.1 1648.5 1052.8 1650.2 1053.5 1652.0 1054.2 1653.7 1054.9 1655.5 1055.5 1657.2 1056.2 1658.9 1056.9 1660.7 1057.6 1662.4 1058.3 1664.2 1058.9 1665.9 1059.6 1667.7 1060.3 1669.4 1061.0 1671.2 1061.6 1672.9 1062.3 1674.6 1063.0 1676.4 1063.7 1678.1 1064.3 1679.9 1065.0 1681.6 1065.7 1683.4 1066.4 1685.1 1067.0 1686.9 1067.7 1688.6 1068.4 1690.4 1069.0 1692.1 1069.7 1693.8 1070.4 1695.6 1071.1 1697.3 1071.7 1699.1 1072.4 1700.8 1073.1 1702.6 1073.7 1704.3 1074.4 1706.1 1075.1 1707.8 1075.7 1709.6 1076.4 1711.3 1077.1 1713.1 1077.7 1714.8 1078.4 1716.6 1079.1 1718.3 1079.7 1720.1 1080.4 1721.8 1081.1 1723.6 1081.7 1725.3 1082.4 1727.1 1083.0 1728.8 1083.7 1730.6 1084.4 1732.3 1085.0 1734.1 1085.7 1735.8 1086.4 1737.6 1087.0 1739.3 1087.7 1741.1 1088.3 1742.8 1089.0 1744.6 1089.6 1746.3 1090.3 1748.1 1091.0 1749.8 1091.6 1751.6 1092.3 1753.3 1092.9 1755.1 1093.6 1756.8 1094.3 1758.6 1094.9 1760.3 1095.6 1762.1 1096.2 1763.8 1096.9 1765.6 1097.5 1767.3 1098.2 1769.1 1098.8 1770.8 1099.5 1772.6 1100.1 1774.3 1100.8 1776.1 1101.4 1777.8 1102.1 1779.6 1102.7 1781.3 1103.4 1783.1 1104.0 1784.9 1104.7 1786.6 1105.3 1788.4 1106.0 1790.1 1106.6 1791.9 1107.3 1793.6 1107.9 1795.4 1108.6 1797.1 1109.2 1798.9 1109.9 1800.6 1110.5 1802.4 1111.2 1804.1 1111.8 1805.9 1112.5 1807.7 1113.1 1809.4 1113.7 1811.2 1114.4 1812.9 1115.0 1814.7 1115.7 1816.4 1116.3 1818.2 1117.0 1819.9 1117.6 1821.7 1118.2 1823.5 1118.9 1825.2 1119.5 1827.0 1120.2 1828.7 1120.8 1830.5 1121.4 1832.2 1122.1 1834.0 1122.7 1835.8 1123.4 1837.5 1124.0 1839.3 1124.6 1841.0 1125.3 1842.8 1125.9 1844.6 1126.5 1846.3 1127.2 1848.1 1127.8 1849.8 1128.4 1851.6 1129.1 1853.4 1129.7 1855.1 1130.3 1856.9 1131.0 1858.6 1131.6 1860.4 1132.2 1862.2 1132.9 1863.9 1133.5 1865.7 1134.1 1867.4 1134.7 1869.2 1135.4 1871.0 1136.0 1872.7 1136.6 1874.5 1137.2 1876.2 1137.9 1878.0 1138.5 1879.8 1139.1 1881.5 1139.8 1883.3 1140.4 1885.0 1141.0 1886.8 1141.6 1888.6 1142.2 1890.3 1142.9 1892.1 1143.5 1893.9 1144.1 1895.6 1144.7 1897.4 1145.4 1899.2 1146.0 1900.9 1146.6 1902.7 1147.2 1904.4 1147.8 1906.2 1148.4 1908.0 1149.1 1909.7 1149.7 1911.5 1150.3 1913.3 1150.9 1915.0 1151.5 1916.8 1152.1 1918.6 1152.8 1920.3 1153.4 1922.1 1154.0 1923.9 1154.6 1925.6 1155.2 1927.4 1155.8 1929.2 1156.4 1930.9 1157.0 1932.7 1157.7 1934.5 1158.3 1936.2 1158.9 1938.0 1159.5 1939.8 1160.1 1941.5 1160.7 1943.3 1161.3 1945.1 1161.9 1946.8 1162.5 1948.6 1163.1 1950.4 1163.7 1952.2 1164.3 1953.9 1164.9 1955.7 1165.5 1957.5 1166.1 1959.2 1166.7 1961.0 1167.3 1962.8 1167.9 1964.5 1168.5 1966.3 1169.1 1968.1 1169.7 1969.9 1170.3 1971.6 1170.9 1973.4 1171.5 1975.2 1172.1 1976.9 1172.7 1978.7 1173.3 1980.5 1173.9 1982.3 1174.5 1984.0 1175.1 1985.8 1175.7 1987.6 1176.3 1989.4 1176.9 1991.1 1177.5 1992.9 1178.1 1994.7 1178.7 1996.5 1179.3 1998.2 1179.8 2000.0 1180.4 2001.8 1181.0 2003.6 1181.6 2005.3 1182.2 2007.1 1182.8 2008.9 1183.4 2010.7 1184.0 2012.4 1184.5 2014.2 1185.1 2016.0 1185.7 2017.8 1186.3 2019.5 1186.9 2021.3 1187.5 2023.1 1188.0 2024.9 1188.6 2026.7 1189.2 2028.4 1189.8 2030.2 1190.4 2032.0 1190.9 2033.8 1191.5 2035.5 1192.1 2037.3 1192.7 2039.1 1193.3 2040.9 1193.8 2042.7 1194.4 2044.4 1195.0 2046.2 1195.6 2048.0 1196.1 2049.8 1196.7 2051.6 1197.3 2053.4 1197.8 2055.1 1198.4 2056.9 1199.0 2058.7 1199.6 2060.5 1200.1 2062.3 1200.7 2064.0 1201.3 2065.8 1201.8 2067.6 1202.4 2069.4 1203.0 2071.2 1203.5 2073.0 1204.1 2074.7 1204.7 2076.5 1205.2 2078.3 1205.8 2080.1 1206.3 2081.9 1206.9 2083.7 1207.5 2085.5 1208.0 2087.2 1208.6 2089.0 1209.1 2090.8 1209.7 2092.6 1210.3 2094.4 1210.8 2096.2 1211.4 2097.1 1211.7" stroke="#00f" stroke-width="4" fill="none" stroke-linejoin="round"/>
<path d="M233.6 750.3 233.6 748.1 233.6 745.9 233.6 743.7 233.5 741.5 233.5 739.4 233.5 737.2 233.5 735.0 233.5 732.8 233.5 730.6 233.5 728.4 233.5 726.2 233.5 724.0 233.5 721.9 233.5 719.7 233.5 717.5 233.5 715.3 233.5 713.1 233.5 710.9 233.5 708.8 233.5 706.6 233.5 704.4 233.5 702.2 233.5 700.0 233.5 697.9 233.6 695.7 233.6 693.5 233.6 691.3 233.6 689.2 233.6 687.0 233.6 684.8 233.7 682.6 233.7 680.5 233.7 678.3 233.7 676.1 233.8 673.9 233.8 671.8 233.8 669.6 233.8 667.4 233.9 665.2 233.9 663.1 233.9 660.9 234.0 658.7 234.0 656.6 234.0 654.4 234.1 652.2 234.1 650.1 234.2 647.9 234.2 645.7 234.3 643.5 234.3 641.4 234.4 639.2 234.4 637.0 234.5 634.9 234.5 632.7 234.6 630.5 234.6 628.4 234.7 626.2 234.7 624.1 234.8 621.9 234.9 619.7 234.9 617.6 235.0 615.4 235.1 613.2 235.1 611.1 235.2 608.9 235.3 606.8 235.4 604.6 235.5 602.4 235.5 600.3 235.6 598.1 235.7 595.9 235.8 593.8 235.9 591.6 236.0 589.5 236.1 587.3 236.1 585.1 236.2 583.0 236.3 580.8 236.4 578.7 236.5 576.5 236.6 574.4 236.8 572.2 236.9 570.0 237.0 567.9 237.1 565.7 237.2 563.6 237.3 561.4 237.4 559.3 237.6 557.1 237.7 554.9 237.8 552.8 237.9 550.6 238.1 548.5 238.2 546.3 238.3 544.2 238.5 542.0 238.6 539.9 238.7 537.7 238.9 535.5 239.0 533.4 239.2 531.2 239.3 529.1 239.5 526.9 239.6 524.8 239.8 522.6 239.9 520.5 240.1 518.3 240.3 516.2 240.4 514.0 240.6 511.9 240.8 509.7 240.9 507.6 241.1 505.4 241.3 503.2 241.5 501.1 241.7 498.9 241.8 496.8 242.0 494.6 242.2 492.5 242.4 490.3 242.6 488.2 242.8 486.0 243.0 483.9 243.2 481.7 243.4 479.6 243.6 477.4 243.9 475.3 244.1 473.1 244.3 471.0 244.5 468.8 244.7 466.7 245.0 464.5 245.2 462.4 245.4 460.2 245.6 458.1 245.9 455.9 246.1 453.7 246.4 451.6 246.6 449.4 246.9 447.3 247.1 445.1 247.4 443.0 247.6 440.8 247.9 438.7 248.1 436.5 248.4 434.4 248.7 432.2 249.0 430.1 249.2 427.9 249.5 425.8 249.8 423.6 250.1 421.5 250.4 419.3 250.6 417.2 250.9 415.0 251.2 412.8 251.5 410.7 251.8 408.5 252.1 406.4 252.5 404.2 252.8 402.1 253.1 399.9 253.4 397.8 253.7 395.6 254.0 393.5 254.4 391.3 254.7 389.2 255.0 387.0 255.4 384.8 255.7 382.7 256.1 380.5 256.4 378.4 256.8 376.2 257.1 374.1 257.5 371.9 257.9 369.8 258.2 367.6 258.6 365.5 259.0 363.3 259.4 361.2 259.8 359.0 260.2 356.9 260.6 354.7 261.0 352.6 261.4 350.4 261.8 348.3 262.3 346.1 262.7 344.0 263.1 341.9 263.6 339.7 264.1 337.6 264.5 335.5 265.0 333.3 265.5 331.2 266.0 329.1 266.5 327.0 267.0 324.9 267.5 322.8 268.0 320.6 268.6 318.5 269.1 316.4 269.7 314.3 270.3 312.2 270.8 310.1 271.4 308.0 272.0 306.0 272.6 303.9 273.3 301.8 273.9 299.7 274.5 297.6 275.2 295.6 275.9 293.5 276.5 291.5 277.2 289.4 277.9 287.4 278.6 285.3 279.4 283.3 280.1 281.2 280.9 279.2 281.6 277.2 282.4 275.2 283.2 273.1 284.0 271.1 284.8 269.1 285.7 267.1 286.5 265.1 287.4 263.2 288.3 261.2 289.2 259.2 290.1 257.2 291.0 255.3 291.9 253.3 292.9 251.4 293.9 249.4 294.9 247.5 295.9 245.6 296.9 243.6 297.9 241.7 299.0 239.8 300.1 237.9 301.1 236.0 302.3 234.1 303.4 232.3 304.5 230.4 305.7 228.5 306.9 226.7 308.1 224.9 309.3 223.0 310.5 221.2 311.8 219.4 313.0 217.6 314.3 215.9 315.6 214.1 316.9 212.4 318.3 210.7 319.6 208.9 321.0 207.3 322.4 205.6 323.8 203.9 325.3 202.3 326.7 200.7 328.2 199.1 329.7 197.5 331.2 196.0 332.7 194.5 334.3 193.0 335.8 191.5 337.4 190.0 339.0 188.6 340.6 187.2 342.3 185.9 343.9 184.5 345.6 183.2 347.3 181.9 349.1 180.7 350.8 179.4 352.6 178.2 354.4 177.1 356.2 175.9 358.0 174.8 359.8 173.8 361.7 172.7 363.5 171.7 365.4 170.7 367.3 169.8 369.2 168.9 371.2 168.0 373.1 167.1 375.1 166.3 377.0 165.6 379.0 164.8 381.0 164.1 383.0 163.4 385.0 162.8 387.0 162.1 389.1 161.6 391.1 161.0 393.1 160.5 395.2 160.0 397.3 159.6 399.3 159.1 401.4 158.8 403.5 158.4 405.5 158.1 407.6 157.8 409.7 157.6 411.8 157.4 413.9 157.2 416.0 157.1 418.1 157.0 420.2 156.9 422.3 156.9 424.4 156.9 426.5 156.9 428.6 156.9 430.7 157.0 432.8 157.1 434.9 157.3 437.1 157.4 439.2 157.6 441.3 157.9 443.4 158.1 445.5 158.4 447.6 158.7 449.8 159.0 451.9 159.4 454.0 159.8 456.1 160.2 458.2 160.6 460.3 161.0 462.5 161.5 464.6 162.0 466.7 162.5 468.8 163.1 470.9 163.6 473.0 164.2 475.2 164.8 477.3 165.4 479.4 166.1 481.5 166.7 483.6 167.4 485.7 168.1 487.8 168.8 489.9 169.5 492.0 170.3 494.1 171.0 496.1 171.8 498.2 172.6 500.3 173.4 502.4 174.2 504.5 175.0 506.5 175.9 508.6 176.7 510.7 177.6 512.7 178.5 514.8 179.4 516.8 180.3 518.9 181.2 520.9 182.1 522.9 183.0 525.0 184.0 527.0 184.9 529.0 185.8 531.0 186.8 533.0 187.8 535.0 188.7 537.0 189.7 539.0 190.7 541.0 191.7 543.0 192.7 544.9 193.7 546.9 194.7 548.9 195.7 550.8 196.7 552.8 197.8 554.7 198.8 556.7 199.8 558.6 200.9 560.5 201.9 562.4 203.0 564.4 204.1 566.3 205.1 568.2 206.2 570.1 207.3 572.0 208.4 573.9 209.5 575.8 210.6 577.7 211.7 579.6 212.8 581.4 213.9 583.3 215.0 585.2 216.1 587.0 217.3 588.9 218.4 590.8 219.5 592.6 220.7 594.5 221.8 596.3 223.0 598.1 224.2 600.0 225.3 601.8 226.5 603.6 227.7 605.5 228.8 607.3 230.0 609.1 231.2 610.9 232.4 612.7 233.6 614.5 234.8 616.3 236.0 618.1 237.2 619.9 238.4 621.7 239.7 623.5 240.9 625.3 242.1 627.1 243.3 628.8 244.6 630.6 245.8 632.4 247.0 634.2 248.3 635.9 249.5 637.7 250.8 639.4 252.0 641.2 253.3 643.0 254.6 644.7 255.8 646.5 257.1 648.2 258.4 649.9 259.7 651.7 260.9 653.4 262.2 655.2 263.5 656.9 264.8 658.6 266.1 660.3 267.4 662.1 268.7 663.8 270.0 665.5 271.3 667.2 272.6 669.0 273.9 670.7 275.2 672.4 276.5 674.1 277.8 675.8 279.1 677.5 280.5 679.2 281.8 680.9 283.1 682.6 284.4 684.3 285.8 686.0 287.1 687.7 288.4 689.4 289.8 691.1 291.1 692.8 292.4 694.5 293.8 696.2 295.1 697.9 296.5 699.6 297.8 701.2 299.1 702.9 300.5 704.6 301.8 706.3 303.2 708.0 304.5 709.7 305.9 711.3 307.3 713.0 308.6 714.7 310.0 716.4 311.3 718.1 312.7 719.7 314.0 721.4 315.4 723.1 316.8 724.8 318.1 726.4 319.5 728.1 320.9 729.8 322.2 731.4 323.6 733.1 325.0 734.8 326.3 736.5 327.7 738.1 329.1 739.8 330.4 741.5 331.8 743.1 333.2 744.8 334.5 746.5 335.9 748.1 337.3 749.8 338.7 751.5 340.0 753.1 341.4 754.8 342.8 756.5 344.2 758.1 345.5 759.8 346.9 761.5 348.3 763.1 349.7 764.8 351.1 766.5 352.4 768.1 353.8 769.8 355.2 771.4 356.6 773.1 358.0 774.8 359.4 776.4 360.7 778.1 362.1 779.7 363.5 781.4 364.9 783.0 366.3 784.7 367.7 786.4 369.1 788.0 370.4 789.7 371.8 791.3 373.2 793.0 374.6 794.6 376.0 796.3 377.4 797.9 378.8 799.6 380.2 801.2 381.6 802.9 383.0 804.6 384.4 806.2 385.8 807.9 387.2 809.5 388.6 811.2 390.0 812.8 391.4 814.5 392.8 816.1 394.2 817.8 395.6 819.4 397.0 821.1 398.4 822.7 399.8 824.4 401.2 826.0 402.6 827.6 404.0 829.3 405.4 830.9 406.8 832.6 408.2 834.2 409.6 835.9 411.0 837.5 412.4 839.2 413.8 840.8 415.2 842.5 416.6 844.1 418.0 845.7 419.4 847.4 420.8 849.0 422.2 850.7 423.7 852.3 425.1 854.0 426.5 855.6 427.9 857.3 429.3 858.9 430.7 860.5 432.1 862.2 433.5 863.8 434.9 865.5 436.4 867.1 437.8 868.7 439.2 870.4 440.6 872.0 442.0 873.7 443.4 875.3 444.8 876.9 446.2 878.6 447.7 880.2 449.1 881.9 450.5 883.5 451.9 885.1 453.3 886.8 454.7 888.4 456.2 890.1 457.6 891.7 459.0 893.3 460.4 895.0 461.8 896.6 463.2 898.2 464.7 899.9 466.1 901.5 467.5 903.2 468.9 904.8 470.3 906.4 471.8 908.1 473.2 909.7 474.6 911.3 476.0 913.0 477.4 914.6 478.9 916.3 480.3 917.9 481.7 919.5 483.1 921.2 484.5 922.8 486.0 924.4 487.4 926.1 488.8 927.7 490.2 929.4 491.6 931.0 493.1 932.6 494.5 934.3 495.9 935.9 497.3 937.5 498.8 939.2 500.2 940.8 501.6 942.4 503.0 944.1 504.4 945.7 505.9 947.3 507.3 949.0 508.7 950.6 510.1 952.3 511.6 953.9 513.0 955.5 514.4 957.2 515.8 958.8 517.3 960.4 518.7 962.1 520.1 963.7 521.5 965.3 522.9 967.0 524.4 968.6 525.8 970.3 527.2 971.9 528.6 973.5 530.1 975.2 531.5 976.8 532.9 978.4 534.3 980.1 535.8 981.7 537.2 983.3 538.6 985.0 540.0 986.6 541.4 988.3 542.9 989.9 544.3 991.5 545.7 993.2 547.1 994.8 548.6 996.4 550.0 998.1 551.4 999.7 552.8 1001.4 554.2 1003.0 555.7 1004.6 557.1 1006.3 558.5 1007.9 559.9 1009.5 561.4 1011.2 562.8 1012.8 564.2 1014.5 565.6 1016.1 567.0 1017.7 568.5 1019.4 569.9 1021.0 571.3 1022.7 572.7 1024.3 574.1 1025.9 575.6 1027.6 577.0 1029.2 578.4 1030.9 579.8 1032.5 581.2 1034.2 582.7 1035.8 584.1 1037.4 585.5 1039.1 586.9 1040.7 588.3 1042.4 589.7 1044.0 591.2 1045.6 592.6 1047.3 594.0 1048.9 595.4 1050.6 596.8 1052.2 598.2 1053.9 599.7 1055.5 601.1 1057.2 602.5 1058.8 603.9 1060.4 605.3 1062.1 606.7 1063.7 608.1 1065.4 609.6 1067.0 611.0 1068.7 612.4 1070.3 613.8 1072.0 615.2 1073.6 616.6 1075.3 618.0 1076.9 619.4 1078.6 620.9 1080.2 622.3 1081.9 623.7 1083.5 625.1 1085.2 626.5 1086.8 627.9 1088.5 629.3 1090.1 630.7 1091.8 632.1 1093.4 633.5 1095.1 634.9 1096.7 636.3 1098.4 637.7 1100.0 639.1 1101.7 640.6 1103.3 642.0 1105.0 643.4 1106.7 644.8 1108.3 646.2 1110.0 647.6 1111.6 649.0 1113.3 650.4 1114.9 651.8 1116.6 653.2 1118.3 654.6 1119.9 656.0 1121.6 657.4 1123.2 658.8 1124.9 660.2 1126.5 661.6 1128.2 663.0 1129.9 664.4 1131.5 665.7 1133.2 667.1 1134.9 668.5 1136.5 669.9 1138.2 671.3 1139.8 672.7 1141.5 674.1 1143.2 675.5 1144.8 676.9 1146.5 678.3 1148.2 679.7 1149.8 681.1 1151.5 682.4 1153.2 683.8 1154.8 685.2 1156.5 686.6 1158.2 688.0 1159.9 689.4 1161.5 690.8 1163.2 692.1 1164.9 693.5 1166.5 694.9 1168.2 696.3 1169.9 697.7 1171.6 699.1 1173.2 700.4 1174.9 701.8 1176.6 703.2 1178.3 704.6 1179.9 705.9 1181.6 707.3 1183.3 708.7 1185.0 710.1 1186.7 711.4 1188.3 712.8 1190.0 714.2 1191.7 715.6 1193.4 716.9 1195.1 718.3 1196.7 719.7 1198.4 721.0 1200.1 722.4 1201.8 723.8 1203.5 725.1 1205.2 726.5 1206.9 727.9 1208.5 729.2 1210.2 730.6 1211.9 732.0 1213.6 733.3 1215.3 734.7 1217.0 736.0 1218.7 737.4 1220.4 738.8 1222.1 740.1 1223.7 741.5 1225.4 742.8 1227.1 744.2 1228.8 745.5 1230.5 746.9 1232.2 748.2 1233.9 749.6 1235.6 751.0 1237.3 752.3 1239.0 753.7 1240.7 755.0 1242.4 756.4 1244.1 757.7 1245.8 759.0 1247.5 760.4 1249.2 761.7 1250.9 763.1 1252.6 764.4 1254.3 765.8 1256.0 767.1 1257.7 768.5 1259.4 769.8 1261.1 771.1 1262.8 772.5 1264.5 773.8 1266.2 775.2 1268.0 776.5 1269.7 777.8 1271.4 779.2 1273.1 780.5 1274.8 781.8 1276.5 783.2 1278.2 784.5 1279.9 785.8 1281.6 787.2 1283.4 788.5 1285.1 789.8 1286.8 791.2 1288.5 792.5 1290.2 793.8 1291.9 795.1 1293.6 796.5 1295.4 797.8 1297.1 799.1 1298.8 800.4 1300.5 801.8 1302.2 803.1 1304.0 804.4 1305.7 805.7 1307.4 807.0 1309.1 808.4 1310.8 809.7 1312.6 811.0 1314.3 812.3 1316.0 813.6 1317.7 814.9 1319.5 816.2 1321.2 817.6 1322.9 818.9 1324.6 820.2 1326.4 821.5 1328.1 822.8 1329.8 824.1 1331.6 825.4 1333.3 826.7 1335.0 828.0 1336.8 829.3 1338.5 830.6 1340.2 831.9 1341.9 833.3 1343.7 834.6 1345.4 835.9 1347.2 837.2 1348.9 838.5 1350.6 839.8 1352.4 841.1 1354.1 842.3 1355.8 843.6 1357.6 844.9 1359.3 846.2 1361.1 847.5 1362.8 848.8 1364.5 850.1 1366.3 851.4 1368.0 852.7 1369.8 854.0 1371.5 855.3 1373.3 856.6 1375.0 857.9 1376.7 859.1 1378.5 860.4 1380.2 861.7 1382.0 863.0 1383.7 864.3 1385.5 865.6 1387.2 866.8 1389.0 868.1 1390.7 869.4 1392.5 870.7 1394.2 872.0 1396.0 873.2 1397.7 874.5 1399.5 875.8 1401.2 877.1 1403.0 878.3 1404.7 879.6 1406.5 880.9 1408.3 882.1 1410.0 883.4 1411.8 884.7 1413.5 886.0 1415.3 887.2 1417.0 888.5 1418.8 889.8 1420.6 891.0 1422.3 892.3 1424.1 893.5 1425.9 894.8 1427.6 896.1 1429.4 897.3 1431.1 898.6 1432.9 899.8 1434.7 901.1 1436.4 902.4 1438.2 903.6 1440.0 904.9 1441.7 906.1 1443.5 907.4 1445.3 908.6 1447.0 909.9 1448.8 911.1 1450.6 912.4 1452.4 913.6 1454.1 914.9 1455.9 916.1 1457.7 917.4 1459.5 918.6 1461.2 919.9 1463.0 921.1 1464.8 922.4 1466.6 923.6 1468.3 924.8 1470.1 926.1 1471.9 927.3 1473.7 928.6 1475.4 929.8 1477.2 931.0 1479.0 932.3 1480.8 933.5 1482.6 934.7 1484.3 936.0 1486.1 937.2 1487.9 938.4 1489.7 939.7 1491.5 940.9 1493.3 942.1 1495.1 943.3 1496.8 944.6 1498.6 945.8 1500.4 947.0 1502.2 948.3 1504.0 949.5 1505.8 950.7 1507.6 951.9 1509.4 953.1 1511.2 954.4 1512.9 955.6 1514.7 956.8 1516.5 958.0 1518.3 959.2 1520.1 960.4 1521.9 961.7 1523.7 962.9 1525.5 964.1 1527.3 965.3 1529.1 966.5 1530.9 967.7 1532.7 968.9 1534.5 970.1 1536.3 971.3 1538.1 972.5 1539.9 973.7 1541.7 974.9 1543.5 976.1 1545.3 977.4 1547.1 978.6 1548.9 979.8 1550.7 980.9 1552.5 982.1 1554.3 983.3 1556.1 984.5 1557.9 985.7 1559.8 986.9 1561.6 988.1 1563.4 989.3 1565.2 990.5 1567.0 991.7 1568.8 992.9 1570.6 994.1 1572.4 995.3 1574.2 996.5 1576.0 997.6 1577.9 998.8 1579.7 1000.0 1581.5 1001.2 1583.3 1002.4 1585.1 1003.6 1586.9 1004.7 1588.8 1005.9 1590.6 1007.1 1592.4 1008.3 1594.2 1009.4 1596.0 1010.6 1597.9 1011.8 1599.7 1013.0 1601.5 1014.1 1603.3 1015.3 1605.1 1016.5 1607.0 1017.6 1608.8 1018.8 1610.6 1020.0 1612.4 1021.1 1614.3 1022.3 1616.1 1023.5 1617.9 1024.6 1619.8 1025.8 1621.6 1027.0 1623.4 1028.1 1625.2 1029.3 1627.1 1030.4 1628.9 1031.6 1630.7 1032.8 1632.6 1033.9 1634.4 1035.1 1636.2 1036.2 1638.1 1037.4 1639.9 1038.5 1641.7 1039.7 1643.6 1040.8 1645.4 1042.0 1647.3 1043.1 1649.1 1044.3 1650.9 1045.4 1652.8 1046.6 1654.6 1047.7 1656.4 1048.8 1658.3 1050.0 1660.1 1051.1 1662.0 1052.3 1663.8 1053.4 1665.7 1054.5 1667.5 1055.7 1669.3 1056.8 1671.2 1058.0 1673.0 1059.1 1674.9 1060.2 1676.7 1061.4 1678.6 1062.5 1680.4 1063.6 1682.3 1064.7 1684.1 1065.9 1686.0 1067.0 1687.8 1068.1 1689.7 1069.2 1691.5 1070.4 1693.4 1071.5 1695.2 1072.6 1697.1 1073.7 1698.9 1074.9 1700.8 1076.0 1702.7 1077.1 1704.5 1078.2 1706.4 1079.3 1708.2 1080.4 1710.1 1081.6 1711.9 1082.7 1713.8 1083.8 1715.7 1084.9 1717.5 1086.0 1719.4 1087.1 1721.3 1088.2 1723.1 1089.3 1725.0 1090.4 1726.8 1091.5 1728.7 1092.6 1730.6 1093.7 1732.4 1094.8 1734.3 1095.9 1736.2 1097.0 1738.0 1098.1 1739.9 1099.2 1741.8 1100.3 1743.6 1101.4 1745.5 1102.5 1747.4 1103.6 1749.3 1104.7 1751.1 1105.8 1753.0 1106.9 1754.9 1108.0 1756.8 1109.1 1758.6 1110.1 1760.5 1111.2 1762.4 1112.3 1764.3 1113.4 1766.1 1114.5 1768.0 1115.6 1769.9 1116.6 1771.8 1117.7 1773.6 1118.8 1775.5 1119.9 1777.4 1120.9 1779.3 1122.0 1781.2 1123.1 1783.1 1124.2 1784.9 1125.2 1786.8 1126.3 1788.7 1127.4 1790.6 1128.4 1792.5 1129.5 1794.4 1130.6 1796.3 1131.6 1798.1 1132.7 1800.0 1133.8 1801.9 1134.8 1803.8 1135.9 1805.7 1137.0 1807.6 1138.0 1809.5 1139.1 1811.4 1140.1 1813.3 1141.2 1815.2 1142.2 1817.1 1143.3 1818.9 1144.3 1820.8 1145.4 1822.7 1146.4 1824.6 1147.5 1826.5 1148.5 1828.4 1149.6 1830.3 1150.6 1832.2 1151.7 1834.1 1152.7 1836.0 1153.8 1837.9 1154.8 1839.8 1155.8 1841.7 1156.9 1843.6 1157.9 1845.5 1159.0 1847.4 1160.0 1849.4 1161.0 1851.3 1162.1 1853.2 1163.1 1855.1 1164.1 1857.0 1165.2 1858.9 1166.2 1860.8 1167.2 1862.7 1168.2 1864.6 1169.3 1866.5 1170.3 1868.4 1171.3 1870.3 1172.3 1872.3 1173.4 1874.2 1174.4 1876.1 1175.4 1878.0 1176.4 1879.9 1177.4 1881.8 1178.4 1883.7 1179.5 1885.7 1180.5 1887.6 1181.5 1889.5 1182.5 1891.4 1183.5 1893.3 1184.5 1895.3 1185.5 1897.2 1186.5 1899.1 1187.5 1901.0 1188.5 1902.9 1189.5 1904.9 1190.6 1906.8 1191.6 1908.7 1192.6 1910.6 1193.6 1912.6 1194.5 1914.5 1195.5 1916.4 1196.5 1918.3 1197.5 1920.3 1198.5 1922.2 1199.5 1924.1 1200.5 1926.1 1201.5 1928.0 1202.5 1929.9 1203.5 1931.9 1204.5 1933.8 1205.5 1935.7 1206.4 1937.7 1207.4 1939.6 1208.4 1941.5 1209.4 1943.5 1210.4 1945.4 1211.3 1947.3 1212.3 1949.3 1213.3 1951.2 1214.3 1953.1 1215.2 1955.1 1216.2 1957.0 1217.2 1959.0 1218.2 1960.9 1219.1 1962.9 1220.1 1964.8 1221.1 1966.7 1222.0 1968.7 1223.0 1970.6 1224.0 1972.6 1224.9 1974.5 1225.9 1976.5 1226.8 1978.4 1227.8 1980.4 1228.8 1982.3 1229.7 1984.3 1230.7 1986.2 1231.6 1988.2 1232.6 1990.1 1233.5 1992.1 1234.5 1994.0 1235.4 1996.0 1236.4 1997.9 1237.3 1999.9 1238.3 2001.8 1239.2 2003.8 1240.2 2005.7 1241.1 2007.7 1242.0 2009.7 1243.0 2011.6 1243.9 2013.6 1244.9 2015.5 1245.8 2017.5 1246.7 2019.5 1247.7 2021.4 1248.6 2023.4 1249.5 2025.3 1250.5 2027.3 1251.4 2029.3 1252.3 2031.2 1253.2 2033.2 1254.2 2035.2 1255.1 2037.1 1256.0 2039.1 1256.9 2041.1 1257.9 2043.0 1258.8 2045.0 1259.7 2047.0 1260.6 2048.9 1261.5 2050.9 1262.4 2052.9 1263.4 2054.9 1264.3 2056.8 1265.2 2058.8 1266.1 2060.8 1267.0 2062.8 1267.9 2064.7 1268.8 2066.7 1269.7 2068.7 1270.6 2070.7 1271.5 2072.6 1272.4 2074.6 1273.3 2076.6 1274.2 2078.6 1275.1 2080.6 1276.0 2082.5 1276.9 2084.5 1277.8 2086.5 1278.7 2088.5 1279.6 2090.5 1280.5 2092.4 1281.4 2094.4 1282.3 2096.4 1283.1 2097.4 1283.6" stroke="#009900" stroke-width="4" fill="none" stroke-linejoin="round"/>
<path d="M232.95 46.00V1335.10M2097.20 46.00V1335.10" stroke="#000" stroke-width="3.7" fill="none"/>
<path d="M231.10 47.60H2099.05M231.10 1333.50H2099.05" stroke="#000" stroke-width="3.1" fill="none"/>
<g fill="#000"><path d="M247.1 286.1L256.3 301.1L237.9 301.1Z"/><path d="M289.4 180.0L298.6 195.0L280.2 195.0Z"/><path d="M359.8 111.4L369.0 126.4L350.6 126.4Z"/><path d="M458.4 109.6L467.6 124.6L449.2 124.6Z"/><path d="M585.3 167.7L594.5 182.7L576.1 182.7Z"/><path d="M740.2 286.2L749.4 301.2L731.0 301.2Z"/><path d="M923.4 448.7L932.6 463.7L914.2 463.7Z"/><path d="M1134.8 637.5L1144.0 652.5L1125.6 652.5Z"/><path d="M1374.3 823.3L1383.5 838.3L1365.1 838.3Z"/><path d="M1642.0 1021.3L1651.2 1036.3L1632.8 1036.3Z"/><path d="M1937.9 1188.9L1947.1 1203.9L1928.7 1203.9Z"/></g>
<text y="124.90"><tspan x="1298.75" font-size="56.37" textLength="111.42" lengthAdjust="spacingAndGlyphs">BSR</tspan><tspan x="1410.17" font-size="54.20">-</tspan><tspan x="1428.22" font-size="56.37" textLength="90.41" lengthAdjust="spacingAndGlyphs">498</tspan><tspan x="1518.63" font-size="54.20">-</tspan><tspan x="1536.67" font-size="56.37" textLength="144.50" lengthAdjust="spacingAndGlyphs">STGF</tspan><tspan x="1681.17" font-size="54.20">-elastic</tspan></text>
<path d="M1883.7 106.90H2032.3" stroke="#000" stroke-width="4"/>
<text y="205.95"><tspan x="1289.72" font-size="56.37" textLength="111.42" lengthAdjust="spacingAndGlyphs">BSR</tspan><tspan x="1401.14" font-size="54.20">-</tspan><tspan x="1419.19" font-size="56.37" textLength="90.41" lengthAdjust="spacingAndGlyphs">498</tspan><tspan x="1509.60" font-size="54.20">-</tspan><tspan x="1527.64" font-size="56.37" textLength="153.52" lengthAdjust="spacingAndGlyphs">FARM</tspan><tspan x="1681.16" font-size="54.20">-elastic</tspan></text>
<circle cx="1958" cy="187.95" r="9.2" fill="#000"/>
<text y="287.00"><tspan x="1211.46" font-size="56.37" textLength="111.42" lengthAdjust="spacingAndGlyphs">BSR</tspan><tspan x="1322.88" font-size="54.20">-</tspan><tspan x="1340.92" font-size="56.37" textLength="90.41" lengthAdjust="spacingAndGlyphs">498</tspan><tspan x="1431.33" font-size="54.20">-</tspan><tspan x="1449.38" font-size="56.37" textLength="144.50" lengthAdjust="spacingAndGlyphs">STGF</tspan><tspan x="1593.88" font-size="54.20">-momtrans</tspan></text>
<path d="M1883.7 269.00H2032.3" stroke="#f00" stroke-width="4"/>
<text y="368.05"><tspan x="1289.72" font-size="56.37" textLength="111.42" lengthAdjust="spacingAndGlyphs">BSR</tspan><tspan x="1401.14" font-size="54.20">-</tspan><tspan x="1419.19" font-size="56.37" textLength="90.41" lengthAdjust="spacingAndGlyphs">498</tspan><tspan x="1509.60" font-size="54.20">-</tspan><tspan x="1527.64" font-size="56.37" textLength="153.52" lengthAdjust="spacingAndGlyphs">FARM</tspan><tspan x="1681.16" font-size="54.20">-elastic</tspan></text>
<rect x="1948.6" y="340.45" width="19.2" height="19.2" fill="#f00"/>
<text y="449.10"><tspan x="1563.74" font-size="56.37" textLength="117.44" lengthAdjust="spacingAndGlyphs">RPO</tspan><tspan x="1681.17" font-size="54.20">-elastic</tspan></text>
<path d="M1883.7 431.10H2032.3" stroke="#00f" stroke-width="4"/>
<text y="530.15"><tspan x="1476.44" font-size="56.37" textLength="117.44" lengthAdjust="spacingAndGlyphs">RPO</tspan><tspan x="1593.88" font-size="54.20">-momtrans</tspan></text>
<path d="M1883.7 512.15H2032.3" stroke="#009900" stroke-width="4"/>
<text y="611.20"><tspan x="1476.47" font-size="56.37" textLength="117.41" lengthAdjust="spacingAndGlyphs">CCC</tspan><tspan x="1593.88" font-size="54.20">-momtrans</tspan></text>
<path d="M1958 583.30L1967.2 598.10L1948.8 598.10Z" fill="#000"/>
</svg></body></html>
